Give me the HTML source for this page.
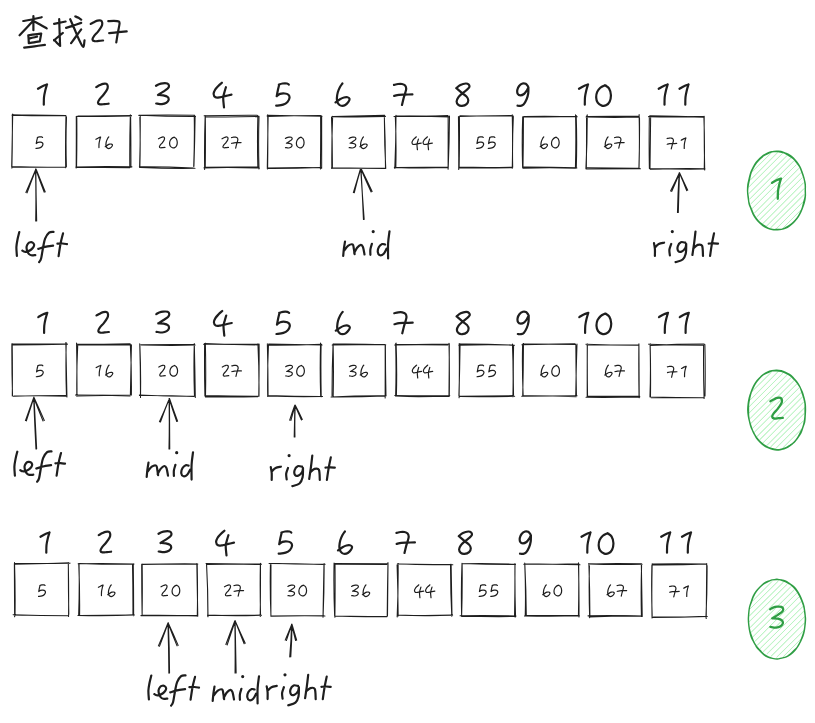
<!DOCTYPE html><html><head><meta charset="utf-8"><style>html,body{margin:0;padding:0;background:#fff;}svg{display:block}</style></head><body>
<svg width="815" height="723" viewBox="0 0 815 723">
<rect width="815" height="723" fill="#ffffff"/>
<g fill="none" stroke="#b2f2bb" stroke-width="1" stroke-linecap="round" opacity="0.72">
<path d="M752.68 171.49L771.73 152.46M752.38 171.36L771.42 152.69M750.45 180.13L778.23 152.15M749.96 180.14L777.74 152.06M748.87 186.79L782.41 153.38M749.16 186.92L782.7 153.34M748.92 193.26L786.56 155.86M749.44 193.28L787.08 155.71M749.71 198.94L790.26 158.19M750.06 198.86L790.61 158.2M750.98 203.63L793.48 161.11M751.18 203.74L793.68 161.4M752.25 208.37L795.88 165.15M752.48 208.53L796.1 164.86M754.48 213.14L798.45 168.61M754.97 212.47L798.94 168.43M757.41 216.59L800.97 172.72M756.92 216.59L800.49 173.26M759.37 219.91L801.75 178.12M760 219.85L802.38 177.62M762.76 223.35L803.11 182.95M763.26 223.46L803.61 182.87M766.78 226L804.14 188.65M766.51 226.03L803.87 188.61M771.19 227.49L804.34 194.93M770.28 228L803.43 194.7M775.87 229.28L803.09 201.75M775.79 229.14L803.01 201.99M782.66 228.35L800.78 210.29M782.52 228.63L800.63 210.16M752.14 391.66L771.18 372.6M751.86 391.27L770.89 372.53M749.85 400.21L777.67 371.78M750.42 399.84L778.25 371.8M749.19 406.5L782.81 373.34M749 407.11L782.62 373.24M749.22 412.71L786.96 375.26M749.06 413.21L786.8 374.87M750.07 418.46L790.73 377.58M750.33 418.33L790.99 377.89M751.31 423.31L793.93 380.75M750.83 423.2L793.45 381.12M752.66 428.21L796.42 384.02M752.91 427.97L796.66 384.33M754.63 431.96L798.73 388.06M754.56 432.01L798.66 388.38M756.99 436.09L800.68 392.8M757.48 436.47L801.17 392.76M759.6 439.44L802.1 396.75M760.15 439.75L802.65 397M763.07 442.79L803.53 402.35M762.9 442.94L803.37 402.08M766.95 444.96L804.41 407.45M767.24 445.4L804.7 407.92M770.65 446.79L803.88 413.65M770.8 447L804.03 413.83M775.79 448.08L803.06 421.07M775.94 448.5L803.2 421.02M783.22 447.5L801.32 429.55M783.19 447.58L801.29 429.2M752.74 600.85L771.81 581.75M752.74 600.89L771.81 581.55M750.37 608.61L778.21 581.26M750.16 608.79L778.01 581.17M749.79 615.88L783.42 582.39M749.14 615.77L782.76 582.58M748.99 621.75L786.72 584.41M749.4 621.67L787.14 584.39M750.05 627.57L790.7 586.79M750.2 627.56L790.85 586.77M750.98 632.28L793.59 590.24M751.42 632.22L794.02 590.22M752.74 636.81L796.46 593.44M752.74 637.13L796.46 593.46M754.72 641.41L798.78 596.99M755.01 641.43L799.06 596.96M757.29 644.85L800.92 601.51M757.74 645.23L801.38 601.73M760.41 648.33L802.84 606.6M760.38 648.32L802.81 606.47M763.25 651.4L803.62 611.65M763.42 651.88L803.79 610.99M767.32 653.84L804.66 616.64M766.92 653.8L804.26 616.92M771.07 655.95L804.14 623.2M771.28 656.42L804.36 623.13M776.91 657.19L803.96 630.43M776.91 656.88L803.96 630.29M783.21 656.75L800.95 638.94M783.69 656.23L801.44 638.69"/>
</g>
<g fill="none" stroke="#1e1e1e" stroke-width="1.05" stroke-linecap="round" stroke-linejoin="round">
<path d="M12.69 115.12Q39.28 114.55 65.86 115.59M11.98 115.11Q38.44 115.98 64.92 115.68M66.5 117.07Q65.61 141.87 66.42 166.68M65.96 115.94Q65.26 141.87 65.69 167.81M66.08 167Q39.04 167.54 12.01 166.5M65.8 166.9Q38.84 167.37 11.88 167.13M11.89 168.11Q12.53 141.96 12.34 115.8M11.69 166.84Q12.18 140.46 12.71 114.08M77.84 116.02Q104.69 116.16 131.54 115.6M76.24 116.44Q103.86 116.45 131.47 115.86M130.64 117.37Q130.98 142.41 130.92 167.46M130.34 114.83Q129.58 140.28 129.79 165.74M129.68 167.79Q103.01 167.37 76.33 167.12M131.95 166.85Q103.84 166.22 75.73 166.97M76.18 167.89Q76.39 142.13 76.27 116.37M76.57 166.72Q77.03 142.07 76.81 117.42M139.85 115.29Q167.7 116.54 195.57 116.45M138.84 115.37Q166.77 114.55 194.7 115.3M194.24 115.67Q194.69 141.07 193.7 166.47M195.1 116.26Q194.79 141.31 193.94 166.35M194.99 168.29Q167.63 168.63 140.3 167.47M193.53 168.03Q166.47 166.57 139.37 166.74M139.87 167Q140.51 142.14 139.84 117.27M139.59 167.56Q140.41 141.95 140.24 116.33M205.44 116.78Q231.98 117.21 258.51 116.49M204.15 115.77Q230.67 115.11 257.2 115.24M259.03 116.2Q258.2 142.58 259 168.97M257.86 115.59Q257.12 141.51 257.83 167.44M259.43 168.08Q231.7 167.23 203.98 167.86M259.03 167.09Q231.79 166.67 204.56 167.33M204.64 169.46Q204.23 142.46 205.16 115.48M205.29 166.54Q205.59 141.15 205.32 115.76M267.21 115.22Q294.63 115.78 322.05 116.24M267.23 116.52Q293.91 115.69 320.61 115.6M320.61 116.19Q320.78 142.61 320.41 169.03M321.65 115.76Q321.6 142.06 321.67 168.37M321.15 167.49Q294.42 168.58 267.67 168.48M321.24 167.72Q294.15 167.39 267.08 168.09M267.3 167.06Q267.83 141.38 268.14 115.69M267.61 168.9Q268.01 141.95 267.71 114.99M332.06 116.71Q358.82 117.45 385.59 116.6M333.19 116.54Q358.96 115.87 384.74 115.39M384.32 116.93Q385.51 142.61 385.45 168.32M384.43 115.98Q384.27 142.05 385.75 168.07M385.78 168.53Q358.63 168.18 331.48 167.89M384.59 168.36Q358.21 168.33 331.84 168.09M332.4 167.26Q332.47 142.08 331.5 116.91M331.82 168.41Q331.57 142.3 332.65 116.22M395.77 115.81Q422.51 116.47 449.26 116.87M393.99 116.5Q421.04 116.8 448.06 115.52M448.13 116.3Q448.2 142.74 448.11 169.18M449.48 115.95Q449.32 142.06 448.21 168.15M447.5 167.32Q421.49 166.94 395.48 167.49M448.06 167.56Q421.19 168.35 394.33 167.4M394.8 168.43Q395.97 141.86 396 115.27M395.84 167.69Q396.44 141.99 395.31 116.31M459.45 116.42Q486.37 115.38 513.31 115.96M459.93 115.81Q485.67 116.29 511.4 115.54M512.25 114.85Q512.88 141.56 512.27 168.28M513.34 116.86Q512.17 141.98 512.68 167.12M511.62 167.61Q485.34 168.25 459.05 167.8M512.43 167.14Q486.03 167.96 459.63 167.07M459.14 167.66Q459.66 142.22 459.4 116.79M458.72 169.53Q458.84 143.06 458.44 116.58M524.34 116.4Q550.8 115.9 577.24 116.7M523.29 116.69Q550.01 117.22 576.73 116.33M575.57 114.88Q576.2 141.53 575.41 168.16M576.2 115.53Q577.14 141.81 576.29 168.1M576.8 167.86Q549.69 167.05 522.56 167.11M575.33 168.17Q549.25 167.32 523.18 168.18M522.97 168.28Q523.45 142.35 523.43 116.42M522.61 167.54Q521.77 142.18 522.69 116.81M587.65 116.61Q613.34 116.32 639.02 115.97M585.96 116.93Q612.3 117.78 638.65 117.07M639.51 117.81Q639.74 142.99 638.92 168.15M639.13 114.64Q639.75 141.69 639.04 168.75M640.46 168.73Q613.26 168.91 586.05 169.04M638.24 168.32Q612.7 168.35 587.18 167.83M585.9 168.63Q587.34 141.74 587.24 114.81M586.36 168.82Q586.61 142.46 586.53 116.09M649.72 115.88Q676.58 116.12 703.42 117.14M648.55 116.62Q675.88 117.33 703.2 116.4M704.21 116.29Q704.06 143.1 704.71 169.9M703.92 117.71Q704.89 143.51 704.23 169.32M705.01 168.75Q677.61 168.21 650.22 169.38M703.4 169.09Q676.35 169.39 649.32 168.47M650 168.17Q650.23 142.27 650.65 116.38M649.35 168.23Q648.91 142.41 649.35 116.6M12.66 343.96Q40.05 343.83 67.44 344.14M12.37 344.85Q38.85 344.71 65.33 344.11M66.23 342.77Q65.52 368.91 66.44 395.05M65.83 342.45Q66.43 369.77 66.94 397.08M66.8 396.18Q40.36 395.28 13.92 396.07M65.74 395.54Q39.6 395.47 13.47 396.21M12.53 396.08Q11.72 369.96 11.86 343.82M12.29 395.94Q12.6 369.89 12.2 343.83M77.61 344.33Q103.74 344.23 129.86 343.76M77.72 344.93Q104.23 344.83 130.73 344.81M131.44 344.86Q130.92 369.64 130.39 394.43M130.31 343.92Q131.68 369.49 131.38 395.1M130.87 395.02Q104.15 395.44 77.43 395.88M130.01 396.01Q102.73 395.06 75.43 395.05M76.99 394.79Q77.07 368.87 76.56 342.96M76.83 396.14Q76.49 370.12 77.76 344.13M141.42 344.91Q168.29 345.78 195.16 345.1M140.94 344.69Q167.28 344.41 193.62 344.56M194.27 343.56Q193.54 369.49 194.45 395.43M194.33 344.62Q194.94 371.03 195.31 397.44M193.89 396.47Q166.69 395.31 139.46 395.58M194.56 396.23Q166.93 396.43 139.34 395.06M140.5 397.48Q140.99 370.84 139.84 344.22M140.45 395.94Q140.55 369.85 139.74 343.78M204.78 343.54Q231.7 344.72 258.64 344.26M203.59 344.19Q231.09 344.02 258.56 344.98M259.12 343.93Q259.27 370.12 258.77 396.3M257.93 343.89Q259.25 370.06 259 396.26M257.59 396.67Q231.5 397.1 205.41 396.68M257.97 396.24Q231.79 396 205.62 395.47M205.5 396.9Q206.04 370.02 205.36 343.15M204.9 396.07Q204.3 369.82 204.62 343.56M268.62 344.02Q295.36 344.57 322.1 345.09M268.58 345.09Q295.04 345.25 321.48 344.26M320.56 343.09Q319.78 369.96 320.69 396.83M321.1 344.52Q320.66 370.75 321.22 396.98M322.55 396.49Q295.34 396.94 268.14 396.09M321.07 396.54Q294.44 396.34 267.82 395.52M267.7 396.38Q267.3 370.58 268.47 344.81M268.08 395.93Q268.06 369.84 267.35 343.77M332.17 345.03Q358.47 344.46 384.77 344.41M333.26 344.08Q359.51 343.84 385.74 344.66M385.18 345.6Q385.23 371.76 385.15 397.92M385.38 345Q385.45 369.94 385.96 394.87M384.68 395.95Q358.51 397.17 332.32 396.98M386.23 395.82Q358.64 395.56 331.09 397.01M333.18 396.29Q333.75 370.74 333.15 345.19M332.06 395.67Q331.98 369.85 333.05 344.06M395.99 344.31Q422.25 344.61 448.5 344.1M394.71 344.91Q421.18 344.29 447.64 345.04M449.3 343.79Q449.27 370.16 448.97 396.53M449 343.22Q449.62 369.7 449.29 396.18M449.76 395.59Q422.28 396.2 394.8 395.47M449.07 396.12Q422.28 396.97 395.48 396.32M395.62 396.05Q396.42 369.8 395.61 343.55M396.39 395.94Q397.12 369.51 396.1 343.1M459.78 343.96Q487.15 343.79 514.47 345.19M458.85 345.13Q486.05 344.43 513.25 345.01M512.43 343.92Q513.51 370.38 512.91 396.85M513.6 345.22Q513.05 370.16 513.53 395.09M512.55 395.88Q486.09 395.89 459.64 396.19M514.65 396.31Q487.19 396.87 459.72 396.58M459.08 397.7Q459.58 370.67 459.21 343.63M458.91 395.62Q459.78 369.72 460.07 343.8M522.73 343.94Q549.21 344.19 575.69 344.39M521.87 344.74Q548.43 343.96 575 343.7M575.86 345.22Q575.93 370.38 576.44 395.54M577 343.94Q576.12 369.43 575.74 394.92M577.09 395.72Q549.42 395.92 521.75 396.33M576.11 396.8Q549.66 395.52 523.18 395.7M523.15 394.97Q521.99 369.84 522.59 344.68M522.73 395.92Q523.36 369.68 523.47 343.43M585.87 344.28Q611.99 345.26 638.13 345.22M586.92 344.99Q612.69 344.9 638.46 344.99M638.87 344.21Q638.6 370.36 639.04 396.51M638.93 343.8Q639.02 370.79 639.2 397.78M639.77 396.25Q613.45 396.52 587.12 395.92M639.68 397.09Q612.86 397.51 586.04 397.31M587.21 396.69Q587.18 370.52 587.26 344.35M587.57 397.48Q587.12 370.8 587.36 344.12M650 345.56Q677.07 344.14 704.18 344.14M648.67 344.15Q676.06 344.92 703.46 345.21M703.61 344.45Q703.27 371.47 704.08 398.48M704.89 344.58Q705.48 370.29 705.01 396M704.28 397.8Q677.76 397.57 651.25 397.82M703.43 397.71Q676.93 397.5 650.43 397.01M649.95 396.89Q650.86 370.9 650.09 344.9M650.49 396.76Q650.82 370.32 650.16 343.9M14.97 563.35Q42.48 563.82 69.99 563.15M14.78 564.22Q41.77 563.6 68.77 563.01M68.3 563.61Q68.86 590.06 68.56 616.52M68.34 563.03Q68.32 588.69 68.8 614.34M68.48 615.66Q41.35 615.49 14.23 614.97M68.13 615.82Q40.58 615.7 13.06 614.73M14.61 616.82Q14.55 590.18 14.37 563.54M15.03 615.67Q15.4 589.1 14.52 562.54M78.15 563.8Q106.09 563.24 134.02 564.03M78.66 563.41Q106.1 564.43 133.55 564.23M132.5 564.11Q133.03 589.14 132.94 614.17M133.27 563.68Q133.66 589.7 133.64 615.71M134.44 615.1Q106.19 615.97 77.92 615.42M131.77 615.04Q105.73 615.27 79.69 615.51M78.63 615.83Q79.57 590 79.05 564.16M79.6 615.13Q79.87 589.51 78.77 563.91M142.12 564.29Q169.97 563.77 197.83 563.93M141.71 564.45Q169.22 563.88 196.74 564.21M197.19 563.81Q197.81 590.05 197.28 616.3M196.82 563.47Q197.21 589.5 197.76 615.52M197.23 615.53Q169.06 615.5 140.9 615.62M197.86 616.03Q169.99 614.89 142.11 615.36M142.13 615.54Q141.65 589.88 141.7 564.21M142.14 614.03Q142.51 589.08 142.17 564.12M206.95 564.39Q234.09 563.71 261.23 564.04M206.04 563.41Q233.63 564.19 261.23 564.5M260.36 564.6Q259.89 590.38 260.57 616.15M260.47 563.24Q260.6 589.76 260.2 616.27M261.5 615.21Q234.47 616.05 207.45 615.1M261.04 615.28Q234.27 615.14 207.5 615.49M207.99 616.69Q208.02 590.62 206.59 564.6M207.83 616.58Q207.99 590.14 206.52 563.74M269.05 563.43Q295.92 563.66 322.77 564.44M271.16 563.47Q298.14 564.33 325.13 564.17M323.96 564.01Q323.43 590.65 323.02 617.3M324.11 563.4Q324.27 589.54 323.12 615.65M323.63 615.43Q297.25 615.64 270.87 616M324.97 615.95Q298.03 615.49 271.09 616.26M270.94 615.27Q269.83 589.73 270.42 564.18M270.89 616.15Q270.9 589.8 270.97 563.45M334.05 564.2Q360.28 564.15 386.51 564.58M334.98 563.54Q361.31 563.8 387.65 563.88M388.02 562.99Q387.75 589.21 387.51 615.42M387.97 562.58Q387.43 589.38 387.21 616.19M387.23 616.36Q360.89 617.02 334.55 616.07M386.8 616.67Q361.24 615.94 335.66 616.25M334.89 617.22Q335.28 590.48 335.01 563.73M334.63 616.05Q333.51 589.51 334.06 562.96M397.3 563.99Q425.07 564.44 452.84 564.66M397.96 563.91Q424.47 564.95 450.99 564.43M450.56 564.28Q450.43 590.29 451.8 616.26M451.12 564.25Q451.6 590.03 452 615.8M451.56 615.34Q424.69 616.07 397.84 615.02M452.61 615.14Q425.78 616.04 398.95 615.21M398.17 615.94Q398.01 590.44 397.08 564.95M397.13 616.92Q398.41 590.21 398.13 563.48M462.14 563.42Q488.78 564.5 515.45 564.44M462.51 563.67Q489.01 563.13 515.5 564.18M515 564.55Q515.01 590.59 514.53 616.63M514.97 563.53Q514.75 590.25 515.56 616.97M514.73 616.56Q488.38 616.74 462.04 616.32M516.04 615.96Q488.04 615.13 460.04 615.69M461.66 616.39Q460.93 589.83 461.99 563.28M461.64 616.03Q462.48 589.73 462.12 563.42M524.79 563.84Q552.39 564.6 580 564.69M523.81 564.29Q551.34 564.45 578.87 563.72M578.67 563.42Q579 589.21 578.44 615M578.44 562.84Q579.19 589.92 578.99 617.02M579.48 615.83Q551.97 616.45 524.47 615.94M578.41 615.58Q552.22 615.58 526.04 615.64M526.3 615.1Q526.1 590.1 524.87 565.12M525.25 615.34Q525.88 589.19 524.73 563.06M588.38 563.92Q615.24 564.85 642.12 564.18M589.21 563.91Q615.4 563.29 641.6 563.82M641.59 565.53Q640.77 590.97 641.43 616.42M641.34 564.36Q641.67 590.39 642.23 616.41M642.25 616.23Q615.13 615.2 588 615.86M641.95 616.01Q615.62 615.8 589.32 617.04M589.66 617.61Q588.75 591.7 589.43 565.78M589.9 616.17Q589.85 589.95 588.88 563.74M652.7 564Q679.51 563.56 706.32 564.07M652.23 564.95Q679.42 565.17 706.57 563.86M707.09 565.58Q707.23 591.8 705.92 617.98M706.71 563.47Q706.51 590.93 706.24 618.4M706.51 616.29Q679.94 617.33 653.36 617.09M707.3 616.45Q679.86 617.29 652.4 617.54M652.21 617.18Q651.25 591.19 651.88 565.18M652.04 617.95Q651.56 590.81 652.16 563.68M35.69 220.9Q36.19 195 35.5 169.1M36.68 220.9Q36 195 35.83 169.1M25.89 192.42Q30.97 180.81 35.78 169.09M27.08 192.89Q31.31 180.94 36.07 169.21M44.23 192.27Q39.77 180.78 35.7 169.14M45.27 191.85Q40.67 180.42 36.03 169.01M363.44 219.42Q362.55 193.89 360.67 168.41M364.16 219.38Q362.13 193.91 360.97 168.39M353.35 192.57Q357.08 180.49 360.58 168.34M354.26 192.83Q357.3 180.55 360.82 168.41M371.12 191.97Q365.77 180.28 360.67 168.46M372.14 191.5Q366.66 179.86 360.97 168.32M677.46 212.48Q677.93 192.68 679.13 172.89M678.32 212.51Q678.81 192.71 679.52 172.91M670.57 190.92Q675.1 181.98 679.28 172.89M671.69 191.42Q675.81 182.3 679.53 173M686.66 190.65Q683.2 181.67 679.3 172.9M687.74 190.16Q683.51 181.53 679.54 172.79M35.94 448.92Q34.64 423.17 33.65 397.41M36.65 448.88Q35.44 423.13 34.01 397.39M25.42 420.57Q29.56 408.95 33.75 397.35M26.37 420.9Q30.28 409.2 33.93 397.41M43.03 420.98Q38.25 409.28 33.66 397.5M44.33 420.43Q39.31 408.84 34.01 397.36M168.98 448.9Q169.55 423.75 169.04 398.6M169.75 448.9Q169.64 423.75 169.45 398.6M159.43 421.67Q164.62 410.24 169.29 398.6M160.45 422.08Q164.68 410.26 169.35 398.62M176.73 421.56Q172.63 410.21 169.07 398.68M177.61 421.26Q173.38 409.95 169.5 398.53M294.19 437Q294.6 421.1 294.82 405.2M294.96 437.01Q294.61 421.1 295.21 405.2M289.68 420.18Q291.98 412.58 294.79 405.14M290.83 420.53Q292.99 412.89 295.14 405.24M301.44 419.92Q298.15 412.59 294.97 405.22M302.31 419.5Q298.93 412.22 295.16 405.12M168.86 673.11Q168.69 648 167.93 622.9M169.55 673.09Q169.47 647.98 168.35 622.89M158.38 645.9Q163.37 634.45 167.98 622.85M159.47 646.32Q164.08 634.73 168.21 622.94M177.05 645.88Q172.38 634.47 168.01 622.94M178.19 645.39Q173.47 634.01 168.22 622.85M235.06 673.11Q235.32 646.95 234.83 620.8M236.15 673.09Q235.66 646.95 235.12 620.8M225.86 644.54Q230.21 632.57 234.84 620.71M227.14 644.99Q231.13 632.9 235.28 620.86M244.14 643.74Q239.57 632.29 235.08 620.81M245.25 643.27Q239.98 632.12 235.11 620.8M289.71 656.87Q291.16 640.56 291.57 624.19M290.79 656.92Q291.88 640.59 292.04 624.21M285.19 640.14Q288.57 632.2 291.79 624.2M286.38 640.57Q289.06 632.37 291.99 624.27M295.6 640.56Q293.64 632.4 291.53 624.27M296.68 640.27Q294.28 632.22 291.95 624.16"/>
</g>
<g fill="none" stroke="#1e1e1e" stroke-width="2.2" stroke-linecap="round" stroke-linejoin="round">
<path d="M23.3 21C24.75 20.75 28.93 20.13 32 19.5C35.07 18.87 40.08 17.58 41.7 17.2M33.4 16C33.4 17.17 33.4 20.63 33.4 23C33.4 25.37 33.4 29 33.4 30.2M33 21C31.83 22.25 28.23 26.12 26 28.5C23.77 30.88 20.67 34.17 19.6 35.3M34.3 21.5C35.25 22 37.93 23.35 40 24.5C42.07 25.65 45.58 27.75 46.7 28.4M28.3 35.3C28.35 35.92 28.52 37.7 28.6 39C28.68 40.3 28.77 42.42 28.8 43.1M28.3 35.3C29.42 35.13 32.85 34.6 35 34.3C37.15 34 40.17 33.63 41.2 33.5M41.2 33.5C41.08 34.17 40.73 36.2 40.5 37.5C40.27 38.8 39.92 40.67 39.8 41.3M29.7 38.5C30.33 38.33 32.27 37.8 33.5 37.5C34.73 37.2 36.5 36.83 37.1 36.7M28.8 43.1C29.67 42.97 32.17 42.6 34 42.3C35.83 42 38.83 41.47 39.8 41.3M24.2 47.7C25.92 47.47 31.05 46.78 34.5 46.3C37.95 45.82 43.17 45.05 44.9 44.8M54.1 23.8C55.08 23.6 58.08 22.98 60 22.6C61.92 22.22 64.67 21.68 65.6 21.5M59.2 19.2C59.27 21.33 59.45 27.55 59.6 32C59.75 36.45 60.02 43.58 60.1 45.9M54.1 40.4C54.83 39.75 57.05 37.73 58.5 36.5C59.95 35.27 62.08 33.58 62.8 33M54.1 39.9C54.58 40.42 56 42 57 43C58 44 59.58 45.42 60.1 45.9M66.1 27.9C67.33 27.5 70.98 26.33 73.5 25.5C76.02 24.67 79.92 23.33 81.2 22.9M70.2 19.2C70.92 20.83 73.12 25.78 74.5 29C75.88 32.22 77.07 35.53 78.5 38.5C79.93 41.47 82.1 46.48 83.1 46.8C84.1 47.12 84.27 41.47 84.5 40.4M81.2 29.3C80.33 30.5 77.68 34.2 76 36.5C74.32 38.8 71.92 42 71.1 43.1M75.3 16.4C75.83 16.63 77.52 17.25 78.5 17.8C79.48 18.35 80.75 19.38 81.2 19.7M90.7 23.9C91.33 23.57 93.35 22.45 94.5 21.9C95.65 21.35 96.57 20.82 97.6 20.6C98.63 20.38 99.93 20.27 100.7 20.6C101.47 20.93 102.05 21.65 102.2 22.6C102.35 23.55 102.3 24.8 101.6 26.3C100.9 27.8 99.27 29.97 98 31.6C96.73 33.23 94.92 34.77 94 36.1C93.08 37.43 92.42 38.75 92.5 39.6C92.58 40.45 93.43 40.98 94.5 41.2C95.57 41.42 97.47 41.02 98.9 40.9C100.33 40.78 102.4 40.57 103.1 40.5M108.3 21.2C109.25 21.13 112.25 20.75 114 20.8C115.75 20.85 117.88 20.97 118.8 21.5C119.72 22.03 119.67 22.08 119.5 24C119.33 25.92 118.33 29.93 117.8 33C117.27 36.07 116.55 40.83 116.3 42.4M109.2 33.2C110.67 33.03 115.08 32.52 118 32.2C120.92 31.88 125.25 31.45 126.7 31.3M38 88.8C38.75 88.37 41 86.92 42.5 86.2C44 85.48 46.25 84.78 47 84.5M47 84.5C46.7 85.53 45.7 88.58 45.2 90.7C44.7 92.82 44.23 94.87 44 97.2C43.77 99.53 43.83 103.45 43.8 104.7M96.2 87.1C96.83 86.77 98.85 85.65 100 85.1C101.15 84.55 102.07 84.02 103.1 83.8C104.13 83.58 105.43 83.47 106.2 83.8C106.97 84.13 107.55 84.85 107.7 85.8C107.85 86.75 107.8 88 107.1 89.5C106.4 91 104.77 93.17 103.5 94.8C102.23 96.43 100.42 97.97 99.5 99.3C98.58 100.63 97.92 101.95 98 102.8C98.08 103.65 98.93 104.18 100 104.4C101.07 104.62 102.97 104.22 104.4 104.1C105.83 103.98 107.9 103.77 108.6 103.7M156 85.8C156.48 85.53 157.77 84.62 158.9 84.2C160.03 83.78 161.4 83.42 162.8 83.3C164.2 83.18 166.27 83.08 167.3 83.5C168.33 83.92 168.93 84.95 169 85.8C169.07 86.65 168.65 87.62 167.7 88.6C166.75 89.58 164.92 90.63 163.3 91.7C161.68 92.77 158.88 94.45 158 95M158 95C158.88 95.05 161.68 94.97 163.3 95.3C164.92 95.63 166.82 96.2 167.7 97C168.58 97.8 168.82 99.13 168.6 100.1C168.38 101.07 167.5 102.12 166.4 102.8C165.3 103.48 163.7 104.08 162 104.2C160.3 104.32 157.17 103.62 156.2 103.5M221.9 82.7C221.3 83.25 219.43 84.82 218.3 86C217.17 87.18 215.88 88.47 215.1 89.8C214.32 91.13 213.53 92.75 213.6 94C213.67 95.25 214.47 96.75 215.5 97.3C216.53 97.85 218.07 97.53 219.8 97.3C221.53 97.07 223.95 96.33 225.9 95.9C227.85 95.47 230.57 94.9 231.5 94.7M225.9 87.2C225.67 88.02 224.95 90.35 224.5 92.1C224.05 93.85 223.28 95.15 223.2 97.7C223.12 100.25 223.87 105.78 224 107.4M288.8 84.6C288.52 84.42 288.13 83.68 287.1 83.5C286.07 83.32 283.93 83.32 282.6 83.5C281.27 83.68 279.68 84.33 279.1 84.6C278.52 84.87 279.32 84.13 279.1 85.1C278.88 86.07 278.2 88.55 277.8 90.4C277.4 92.25 276.88 95.23 276.7 96.2M276.7 96.2C277.25 95.82 278.65 94.35 280 93.9C281.35 93.45 283.4 93.35 284.8 93.5C286.2 93.65 287.62 94.07 288.4 94.8C289.18 95.53 289.65 96.72 289.5 97.9C289.35 99.08 288.57 100.78 287.5 101.9C286.43 103.02 284.98 103.97 283.1 104.6C281.22 105.23 277.35 105.52 276.2 105.7M342.4 83.5C342 84.07 340.77 85.45 340 86.9C339.23 88.35 338.32 90.37 337.8 92.2C337.28 94.03 336.98 96.28 336.9 97.9C336.82 99.52 336.87 100.72 337.3 101.9C337.73 103.08 338.68 104.33 339.5 105C340.32 105.67 341.23 105.9 342.2 105.9C343.17 105.9 344.27 105.67 345.3 105C346.33 104.33 347.7 102.93 348.4 101.9C349.1 100.87 349.65 99.57 349.5 98.8C349.35 98.03 348.42 97.52 347.5 97.3C346.58 97.08 345.25 97.17 344 97.5C342.75 97.83 341.42 98.48 340 99.3C338.58 100.12 336.25 101.88 335.5 102.4M394 84.9C394.67 84.75 396.67 84.15 398 84C399.33 83.85 400.82 83.75 402 84C403.18 84.25 404.4 84.73 405.1 85.5C405.8 86.27 406.17 87.42 406.2 88.6C406.23 89.78 405.72 91.05 405.3 92.6C404.88 94.15 404.25 95.83 403.7 97.9C403.15 99.97 402.28 103.82 402 105M394.2 95.9C394.98 95.72 397.08 95.02 398.9 94.8C400.72 94.58 402.85 94.67 405.1 94.6C407.35 94.53 411.18 94.43 412.4 94.4M456.3 88.1C456.98 87.58 458.82 85.77 460.4 85C461.98 84.23 464.42 83.57 465.8 83.5C467.18 83.43 468.12 84 468.7 84.6C469.28 85.2 469.65 86.2 469.3 87.1C468.95 88 467.75 88.97 466.6 90C465.45 91.03 463.78 92.07 462.4 93.3C461.02 94.53 459.27 96.02 458.3 97.4C457.33 98.78 456.6 100.35 456.6 101.6C456.6 102.85 457.4 104.18 458.3 104.9C459.2 105.62 460.62 106.03 462 105.9C463.38 105.77 465.55 105.03 466.6 104.1C467.65 103.17 468.3 101.55 468.3 100.3C468.3 99.05 467.58 97.77 466.6 96.6C465.62 95.43 464.12 94.72 462.4 93.3C460.68 91.88 457.32 88.97 456.3 88.1M527.9 86.2C527.53 85.8 526.58 84.25 525.7 83.8C524.82 83.35 523.7 83.13 522.6 83.5C521.5 83.87 519.98 84.92 519.1 86C518.22 87.08 517.52 88.67 517.3 90C517.08 91.33 517.28 93.12 517.8 94C518.32 94.88 519.37 95.3 520.4 95.3C521.43 95.3 522.97 94.75 524 94C525.03 93.25 525.87 91.92 526.6 90.8C527.33 89.68 528.1 87.88 528.4 87.3M528.4 87.3C528.37 88.33 528.5 91.5 528.2 93.5C527.9 95.5 527.38 97.45 526.6 99.3C525.82 101.15 524.53 103.5 523.5 104.6C522.47 105.7 521.4 105.72 520.4 105.9C519.4 106.08 517.98 105.73 517.5 105.7M579 88.8C579.75 88.37 582 86.92 583.5 86.2C585 85.48 587.25 84.78 588 84.5M588 84.5C587.7 85.53 586.7 88.58 586.2 90.7C585.7 92.82 585.23 94.87 585 97.2C584.77 99.53 584.83 103.45 584.8 104.7M604.9 85.2C605.58 85.72 608 86.67 609 88.3C610 89.93 610.8 92.77 610.9 95C611 97.23 610.42 99.98 609.6 101.7C608.78 103.42 607.3 104.65 606 105.3C604.7 105.95 603.18 106.03 601.8 105.6C600.42 105.17 598.63 104.03 597.7 102.7C596.77 101.37 596.28 99.4 596.2 97.6C596.12 95.8 596.52 93.53 597.2 91.9C597.88 90.27 599.18 88.83 600.3 87.8C601.42 86.77 602.95 86.08 603.9 85.7C604.85 85.32 605.65 85.53 606 85.5M658.7 88.8C659.45 88.37 661.7 86.92 663.2 86.2C664.7 85.48 666.95 84.78 667.7 84.5M667.7 84.5C667.4 85.53 666.4 88.58 665.9 90.7C665.4 92.82 664.93 94.87 664.7 97.2C664.47 99.53 664.53 103.45 664.5 104.7M679.5 88.8C680.25 88.37 682.5 86.92 684 86.2C685.5 85.48 687.75 84.78 688.5 84.5M688.5 84.5C688.2 85.53 687.2 88.58 686.7 90.7C686.2 92.82 685.73 94.87 685.5 97.2C685.27 99.53 685.33 103.45 685.3 104.7M38.3 317.1C39.05 316.67 41.3 315.22 42.8 314.5C44.3 313.78 46.55 313.08 47.3 312.8M47.3 312.8C47 313.83 46 316.88 45.5 319C45 321.12 44.53 323.17 44.3 325.5C44.07 327.83 44.13 331.75 44.1 333M96.5 315.4C97.13 315.07 99.15 313.95 100.3 313.4C101.45 312.85 102.37 312.32 103.4 312.1C104.43 311.88 105.73 311.77 106.5 312.1C107.27 312.43 107.85 313.15 108 314.1C108.15 315.05 108.1 316.3 107.4 317.8C106.7 319.3 105.07 321.47 103.8 323.1C102.53 324.73 100.72 326.27 99.8 327.6C98.88 328.93 98.22 330.25 98.3 331.1C98.38 331.95 99.23 332.48 100.3 332.7C101.37 332.92 103.27 332.52 104.7 332.4C106.13 332.28 108.2 332.07 108.9 332M156.3 314.1C156.78 313.83 158.07 312.92 159.2 312.5C160.33 312.08 161.7 311.72 163.1 311.6C164.5 311.48 166.57 311.38 167.6 311.8C168.63 312.22 169.23 313.25 169.3 314.1C169.37 314.95 168.95 315.92 168 316.9C167.05 317.88 165.22 318.93 163.6 320C161.98 321.07 159.18 322.75 158.3 323.3M158.3 323.3C159.18 323.35 161.98 323.27 163.6 323.6C165.22 323.93 167.12 324.5 168 325.3C168.88 326.1 169.12 327.43 168.9 328.4C168.68 329.37 167.8 330.42 166.7 331.1C165.6 331.78 164 332.38 162.3 332.5C160.6 332.62 157.47 331.92 156.5 331.8M222.2 311C221.6 311.55 219.73 313.12 218.6 314.3C217.47 315.48 216.18 316.77 215.4 318.1C214.62 319.43 213.83 321.05 213.9 322.3C213.97 323.55 214.77 325.05 215.8 325.6C216.83 326.15 218.37 325.83 220.1 325.6C221.83 325.37 224.25 324.63 226.2 324.2C228.15 323.77 230.87 323.2 231.8 323M226.2 315.5C225.97 316.32 225.25 318.65 224.8 320.4C224.35 322.15 223.58 323.45 223.5 326C223.42 328.55 224.17 334.08 224.3 335.7M289.1 312.9C288.82 312.72 288.43 311.98 287.4 311.8C286.37 311.62 284.23 311.62 282.9 311.8C281.57 311.98 279.98 312.63 279.4 312.9C278.82 313.17 279.62 312.43 279.4 313.4C279.18 314.37 278.5 316.85 278.1 318.7C277.7 320.55 277.18 323.53 277 324.5M277 324.5C277.55 324.12 278.95 322.65 280.3 322.2C281.65 321.75 283.7 321.65 285.1 321.8C286.5 321.95 287.92 322.37 288.7 323.1C289.48 323.83 289.95 325.02 289.8 326.2C289.65 327.38 288.87 329.08 287.8 330.2C286.73 331.32 285.28 332.27 283.4 332.9C281.52 333.53 277.65 333.82 276.5 334M342.7 311.8C342.3 312.37 341.07 313.75 340.3 315.2C339.53 316.65 338.62 318.67 338.1 320.5C337.58 322.33 337.28 324.58 337.2 326.2C337.12 327.82 337.17 329.02 337.6 330.2C338.03 331.38 338.98 332.63 339.8 333.3C340.62 333.97 341.53 334.2 342.5 334.2C343.47 334.2 344.57 333.97 345.6 333.3C346.63 332.63 348 331.23 348.7 330.2C349.4 329.17 349.95 327.87 349.8 327.1C349.65 326.33 348.72 325.82 347.8 325.6C346.88 325.38 345.55 325.47 344.3 325.8C343.05 326.13 341.72 326.78 340.3 327.6C338.88 328.42 336.55 330.18 335.8 330.7M394.3 313.2C394.97 313.05 396.97 312.45 398.3 312.3C399.63 312.15 401.12 312.05 402.3 312.3C403.48 312.55 404.7 313.03 405.4 313.8C406.1 314.57 406.47 315.72 406.5 316.9C406.53 318.08 406.02 319.35 405.6 320.9C405.18 322.45 404.55 324.13 404 326.2C403.45 328.27 402.58 332.12 402.3 333.3M394.5 324.2C395.28 324.02 397.38 323.32 399.2 323.1C401.02 322.88 403.15 322.97 405.4 322.9C407.65 322.83 411.48 322.73 412.7 322.7M456.6 316.4C457.28 315.88 459.12 314.07 460.7 313.3C462.28 312.53 464.72 311.87 466.1 311.8C467.48 311.73 468.42 312.3 469 312.9C469.58 313.5 469.95 314.5 469.6 315.4C469.25 316.3 468.05 317.27 466.9 318.3C465.75 319.33 464.08 320.37 462.7 321.6C461.32 322.83 459.57 324.32 458.6 325.7C457.63 327.08 456.9 328.65 456.9 329.9C456.9 331.15 457.7 332.48 458.6 333.2C459.5 333.92 460.92 334.33 462.3 334.2C463.68 334.07 465.85 333.33 466.9 332.4C467.95 331.47 468.6 329.85 468.6 328.6C468.6 327.35 467.88 326.07 466.9 324.9C465.92 323.73 464.42 323.02 462.7 321.6C460.98 320.18 457.62 317.27 456.6 316.4M528.2 314.5C527.83 314.1 526.88 312.55 526 312.1C525.12 311.65 524 311.43 522.9 311.8C521.8 312.17 520.28 313.22 519.4 314.3C518.52 315.38 517.82 316.97 517.6 318.3C517.38 319.63 517.58 321.42 518.1 322.3C518.62 323.18 519.67 323.6 520.7 323.6C521.73 323.6 523.27 323.05 524.3 322.3C525.33 321.55 526.17 320.22 526.9 319.1C527.63 317.98 528.4 316.18 528.7 315.6M528.7 315.6C528.67 316.63 528.8 319.8 528.5 321.8C528.2 323.8 527.68 325.75 526.9 327.6C526.12 329.45 524.83 331.8 523.8 332.9C522.77 334 521.7 334.02 520.7 334.2C519.7 334.38 518.28 334.03 517.8 334M579.3 317.1C580.05 316.67 582.3 315.22 583.8 314.5C585.3 313.78 587.55 313.08 588.3 312.8M588.3 312.8C588 313.83 587 316.88 586.5 319C586 321.12 585.53 323.17 585.3 325.5C585.07 327.83 585.13 331.75 585.1 333M605.2 313.5C605.88 314.02 608.3 314.97 609.3 316.6C610.3 318.23 611.1 321.07 611.2 323.3C611.3 325.53 610.72 328.28 609.9 330C609.08 331.72 607.6 332.95 606.3 333.6C605 334.25 603.48 334.33 602.1 333.9C600.72 333.47 598.93 332.33 598 331C597.07 329.67 596.58 327.7 596.5 325.9C596.42 324.1 596.82 321.83 597.5 320.2C598.18 318.57 599.48 317.13 600.6 316.1C601.72 315.07 603.25 314.38 604.2 314C605.15 313.62 605.95 313.83 606.3 313.8M659 317.1C659.75 316.67 662 315.22 663.5 314.5C665 313.78 667.25 313.08 668 312.8M668 312.8C667.7 313.83 666.7 316.88 666.2 319C665.7 321.12 665.23 323.17 665 325.5C664.77 327.83 664.83 331.75 664.8 333M679.8 317.1C680.55 316.67 682.8 315.22 684.3 314.5C685.8 313.78 688.05 313.08 688.8 312.8M688.8 312.8C688.5 313.83 687.5 316.88 687 319C686.5 321.12 686.03 323.17 685.8 325.5C685.57 327.83 685.63 331.75 685.6 333M40.5 536.8C41.25 536.37 43.5 534.92 45 534.2C46.5 533.48 48.75 532.78 49.5 532.5M49.5 532.5C49.2 533.53 48.2 536.58 47.7 538.7C47.2 540.82 46.73 542.87 46.5 545.2C46.27 547.53 46.33 551.45 46.3 552.7M98.7 535.1C99.33 534.77 101.35 533.65 102.5 533.1C103.65 532.55 104.57 532.02 105.6 531.8C106.63 531.58 107.93 531.47 108.7 531.8C109.47 532.13 110.05 532.85 110.2 533.8C110.35 534.75 110.3 536 109.6 537.5C108.9 539 107.27 541.17 106 542.8C104.73 544.43 102.92 545.97 102 547.3C101.08 548.63 100.42 549.95 100.5 550.8C100.58 551.65 101.43 552.18 102.5 552.4C103.57 552.62 105.47 552.22 106.9 552.1C108.33 551.98 110.4 551.77 111.1 551.7M158.5 533.8C158.98 533.53 160.27 532.62 161.4 532.2C162.53 531.78 163.9 531.42 165.3 531.3C166.7 531.18 168.77 531.08 169.8 531.5C170.83 531.92 171.43 532.95 171.5 533.8C171.57 534.65 171.15 535.62 170.2 536.6C169.25 537.58 167.42 538.63 165.8 539.7C164.18 540.77 161.38 542.45 160.5 543M160.5 543C161.38 543.05 164.18 542.97 165.8 543.3C167.42 543.63 169.32 544.2 170.2 545C171.08 545.8 171.32 547.13 171.1 548.1C170.88 549.07 170 550.12 168.9 550.8C167.8 551.48 166.2 552.08 164.5 552.2C162.8 552.32 159.67 551.62 158.7 551.5M224.4 530.7C223.8 531.25 221.93 532.82 220.8 534C219.67 535.18 218.38 536.47 217.6 537.8C216.82 539.13 216.03 540.75 216.1 542C216.17 543.25 216.97 544.75 218 545.3C219.03 545.85 220.57 545.53 222.3 545.3C224.03 545.07 226.45 544.33 228.4 543.9C230.35 543.47 233.07 542.9 234 542.7M228.4 535.2C228.17 536.02 227.45 538.35 227 540.1C226.55 541.85 225.78 543.15 225.7 545.7C225.62 548.25 226.37 553.78 226.5 555.4M291.3 532.6C291.02 532.42 290.63 531.68 289.6 531.5C288.57 531.32 286.43 531.32 285.1 531.5C283.77 531.68 282.18 532.33 281.6 532.6C281.02 532.87 281.82 532.13 281.6 533.1C281.38 534.07 280.7 536.55 280.3 538.4C279.9 540.25 279.38 543.23 279.2 544.2M279.2 544.2C279.75 543.82 281.15 542.35 282.5 541.9C283.85 541.45 285.9 541.35 287.3 541.5C288.7 541.65 290.12 542.07 290.9 542.8C291.68 543.53 292.15 544.72 292 545.9C291.85 547.08 291.07 548.78 290 549.9C288.93 551.02 287.48 551.97 285.6 552.6C283.72 553.23 279.85 553.52 278.7 553.7M344.9 531.5C344.5 532.07 343.27 533.45 342.5 534.9C341.73 536.35 340.82 538.37 340.3 540.2C339.78 542.03 339.48 544.28 339.4 545.9C339.32 547.52 339.37 548.72 339.8 549.9C340.23 551.08 341.18 552.33 342 553C342.82 553.67 343.73 553.9 344.7 553.9C345.67 553.9 346.77 553.67 347.8 553C348.83 552.33 350.2 550.93 350.9 549.9C351.6 548.87 352.15 547.57 352 546.8C351.85 546.03 350.92 545.52 350 545.3C349.08 545.08 347.75 545.17 346.5 545.5C345.25 545.83 343.92 546.48 342.5 547.3C341.08 548.12 338.75 549.88 338 550.4M396.5 532.9C397.17 532.75 399.17 532.15 400.5 532C401.83 531.85 403.32 531.75 404.5 532C405.68 532.25 406.9 532.73 407.6 533.5C408.3 534.27 408.67 535.42 408.7 536.6C408.73 537.78 408.22 539.05 407.8 540.6C407.38 542.15 406.75 543.83 406.2 545.9C405.65 547.97 404.78 551.82 404.5 553M396.7 543.9C397.48 543.72 399.58 543.02 401.4 542.8C403.22 542.58 405.35 542.67 407.6 542.6C409.85 542.53 413.68 542.43 414.9 542.4M458.8 536.1C459.48 535.58 461.32 533.77 462.9 533C464.48 532.23 466.92 531.57 468.3 531.5C469.68 531.43 470.62 532 471.2 532.6C471.78 533.2 472.15 534.2 471.8 535.1C471.45 536 470.25 536.97 469.1 538C467.95 539.03 466.28 540.07 464.9 541.3C463.52 542.53 461.77 544.02 460.8 545.4C459.83 546.78 459.1 548.35 459.1 549.6C459.1 550.85 459.9 552.18 460.8 552.9C461.7 553.62 463.12 554.03 464.5 553.9C465.88 553.77 468.05 553.03 469.1 552.1C470.15 551.17 470.8 549.55 470.8 548.3C470.8 547.05 470.08 545.77 469.1 544.6C468.12 543.43 466.62 542.72 464.9 541.3C463.18 539.88 459.82 536.97 458.8 536.1M530.4 534.2C530.03 533.8 529.08 532.25 528.2 531.8C527.32 531.35 526.2 531.13 525.1 531.5C524 531.87 522.48 532.92 521.6 534C520.72 535.08 520.02 536.67 519.8 538C519.58 539.33 519.78 541.12 520.3 542C520.82 542.88 521.87 543.3 522.9 543.3C523.93 543.3 525.47 542.75 526.5 542C527.53 541.25 528.37 539.92 529.1 538.8C529.83 537.68 530.6 535.88 530.9 535.3M530.9 535.3C530.87 536.33 531 539.5 530.7 541.5C530.4 543.5 529.88 545.45 529.1 547.3C528.32 549.15 527.03 551.5 526 552.6C524.97 553.7 523.9 553.72 522.9 553.9C521.9 554.08 520.48 553.73 520 553.7M581.5 536.8C582.25 536.37 584.5 534.92 586 534.2C587.5 533.48 589.75 532.78 590.5 532.5M590.5 532.5C590.2 533.53 589.2 536.58 588.7 538.7C588.2 540.82 587.73 542.87 587.5 545.2C587.27 547.53 587.33 551.45 587.3 552.7M607.4 533.2C608.08 533.72 610.5 534.67 611.5 536.3C612.5 537.93 613.3 540.77 613.4 543C613.5 545.23 612.92 547.98 612.1 549.7C611.28 551.42 609.8 552.65 608.5 553.3C607.2 553.95 605.68 554.03 604.3 553.6C602.92 553.17 601.13 552.03 600.2 550.7C599.27 549.37 598.78 547.4 598.7 545.6C598.62 543.8 599.02 541.53 599.7 539.9C600.38 538.27 601.68 536.83 602.8 535.8C603.92 534.77 605.45 534.08 606.4 533.7C607.35 533.32 608.15 533.53 608.5 533.5M661.2 536.8C661.95 536.37 664.2 534.92 665.7 534.2C667.2 533.48 669.45 532.78 670.2 532.5M670.2 532.5C669.9 533.53 668.9 536.58 668.4 538.7C667.9 540.82 667.43 542.87 667.2 545.2C666.97 547.53 667.03 551.45 667 552.7M682 536.8C682.75 536.37 685 534.92 686.5 534.2C688 533.48 690.25 532.78 691 532.5M691 532.5C690.7 533.53 689.7 536.58 689.2 538.7C688.7 540.82 688.23 542.87 688 545.2C687.77 547.53 687.83 551.45 687.8 552.7M19.3 232.1C19.02 233.25 18.08 236.52 17.6 239C17.12 241.48 16.52 244.17 16.4 247C16.28 249.83 16.82 254.5 16.9 256M22.3 250.6C22.68 250.78 23.82 251.53 24.6 251.7C25.38 251.87 26 251.88 27 251.6C28 251.32 29.53 250.73 30.6 250C31.67 249.27 32.82 248.1 33.4 247.2C33.98 246.3 34.23 245.37 34.1 244.6C33.97 243.83 33.23 242.98 32.6 242.6C31.97 242.22 31.07 242.13 30.3 242.3C29.53 242.47 28.62 242.88 28 243.6C27.38 244.32 26.77 245.48 26.6 246.6C26.43 247.72 26.67 249.13 27 250.3C27.33 251.47 27.88 252.77 28.6 253.6C29.32 254.43 30.18 255.05 31.3 255.3C32.42 255.55 34.63 255.13 35.3 255.1M53.5 231.8C52.77 231.93 50.5 231.47 49.1 232.6C47.7 233.73 46.1 236.15 45.1 238.6C44.1 241.05 43.77 243.98 43.1 247.3C42.43 250.62 41.77 256.03 41.1 258.5C40.43 260.97 39.43 261.5 39.1 262.1M38.3 248.9C39.43 248.57 42.63 247.45 45.1 246.9C47.57 246.35 51.77 245.82 53.1 245.6M63 233.4C62.6 235.05 61.33 239.52 60.6 243.3C59.87 247.08 58.93 253.97 58.6 256.1M57.4 243.7C58.27 243.67 61 243.43 62.6 243.5C64.2 243.57 66.27 244 67 244.1M345 241.6C344.82 242.77 344.2 246.22 343.9 248.6C343.6 250.98 343.32 254.68 343.2 255.9M343.9 250.8C344.63 249.93 346.83 246.65 348.3 245.6C349.77 244.55 351.78 244 352.7 244.5C353.62 245 353.48 247 353.8 248.6C354.12 250.2 354.47 253.18 354.6 254.1M354.2 253C354.68 252.13 356 249.15 357.1 247.8C358.2 246.45 359.82 245.02 360.8 244.9C361.78 244.78 362.38 245.5 363 247.1C363.62 248.7 364.25 253.27 364.5 254.5M373.2 231.6m-0.5 0a0.5 0.5 0 1 0 1 0a0.5 0.5 0 1 0 -1 0M371.9 243.8C371.65 244.72 370.65 247.47 370.4 249.3C370.15 251.13 370.4 253.88 370.4 254.8M385.1 244.5C384.62 244.43 383.23 243.67 382.2 244.1C381.17 244.53 379.63 245.75 378.9 247.1C378.17 248.45 377.62 250.85 377.8 252.2C377.98 253.55 379.02 254.95 380 255.2C380.98 255.45 382.6 254.8 383.7 253.7C384.8 252.6 386.12 249.45 386.6 248.6M389.5 231.3C389.27 233.32 388.33 238.87 388.1 243.4C387.87 247.93 388.1 255.98 388.1 258.5M654 243.1C654.15 244.07 654.75 246.77 654.9 248.9C655.05 251.03 654.9 254.73 654.9 255.9M655.3 247.1C655.88 246.58 657.33 244.73 658.8 244C660.27 243.27 663.22 242.92 664.1 242.7M672.3 231.6m-0.5 0a0.5 0.5 0 1 0 1 0a0.5 0.5 0 1 0 -1 0M671.2 244C670.9 244.95 669.62 247.78 669.4 249.7C669.18 251.62 669.82 254.53 669.9 255.5M685.3 242.7C684.57 242.62 682.15 241.62 680.9 242.2C679.65 242.78 678.23 244.72 677.8 246.2C677.37 247.68 677.63 250.22 678.3 251.1C678.97 251.98 680.63 252.02 681.8 251.5C682.97 250.98 684.57 249.25 685.3 248C686.03 246.75 686.05 244.67 686.2 244M686.2 244C686.13 245.55 686.38 250.72 685.8 253.3C685.22 255.88 684.4 258.03 682.7 259.5C681 260.97 676.78 261.67 675.6 262.1M695.5 231.6C695.28 233.45 694.72 238.8 694.2 242.7C693.68 246.6 692.7 252.95 692.4 255M693.3 248.4C694.03 247.82 696.23 245.33 697.7 244.9C699.17 244.47 701.22 243.97 702.1 245.8C702.98 247.63 702.85 254.22 703 255.9M714 233.4C713.63 235.23 712.45 240.65 711.8 244.4C711.15 248.15 710.38 253.98 710.1 255.9M708.7 243.6C709.52 243.55 712.05 243.28 713.6 243.3C715.15 243.32 717.27 243.63 718 243.7M17.3 451.7C17.02 452.85 16.08 456.12 15.6 458.6C15.12 461.08 14.52 463.77 14.4 466.6C14.28 469.43 14.82 474.1 14.9 475.6M20.3 470.2C20.68 470.38 21.82 471.13 22.6 471.3C23.38 471.47 24 471.48 25 471.2C26 470.92 27.53 470.33 28.6 469.6C29.67 468.87 30.82 467.7 31.4 466.8C31.98 465.9 32.23 464.97 32.1 464.2C31.97 463.43 31.23 462.58 30.6 462.2C29.97 461.82 29.07 461.73 28.3 461.9C27.53 462.07 26.62 462.48 26 463.2C25.38 463.92 24.77 465.08 24.6 466.2C24.43 467.32 24.67 468.73 25 469.9C25.33 471.07 25.88 472.37 26.6 473.2C27.32 474.03 28.18 474.65 29.3 474.9C30.42 475.15 32.63 474.73 33.3 474.7M51.5 451.4C50.77 451.53 48.5 451.07 47.1 452.2C45.7 453.33 44.1 455.75 43.1 458.2C42.1 460.65 41.77 463.58 41.1 466.9C40.43 470.22 39.77 475.63 39.1 478.1C38.43 480.57 37.43 481.1 37.1 481.7M36.3 468.5C37.43 468.17 40.63 467.05 43.1 466.5C45.57 465.95 49.77 465.42 51.1 465.2M61 453C60.6 454.65 59.33 459.12 58.6 462.9C57.87 466.68 56.93 473.57 56.6 475.7M55.4 463.3C56.27 463.27 59 463.03 60.6 463.1C62.2 463.17 64.27 463.6 65 463.7M148.5 462.7C148.32 463.87 147.7 467.32 147.4 469.7C147.1 472.08 146.82 475.78 146.7 477M147.4 471.9C148.13 471.03 150.33 467.75 151.8 466.7C153.27 465.65 155.28 465.1 156.2 465.6C157.12 466.1 156.98 468.1 157.3 469.7C157.62 471.3 157.97 474.28 158.1 475.2M157.7 474.1C158.18 473.23 159.5 470.25 160.6 468.9C161.7 467.55 163.32 466.12 164.3 466C165.28 465.88 165.88 466.6 166.5 468.2C167.12 469.8 167.75 474.37 168 475.6M176.7 452.7m-0.5 0a0.5 0.5 0 1 0 1 0a0.5 0.5 0 1 0 -1 0M175.4 464.9C175.15 465.82 174.15 468.57 173.9 470.4C173.65 472.23 173.9 474.98 173.9 475.9M188.6 465.6C188.12 465.53 186.73 464.77 185.7 465.2C184.67 465.63 183.13 466.85 182.4 468.2C181.67 469.55 181.12 471.95 181.3 473.3C181.48 474.65 182.52 476.05 183.5 476.3C184.48 476.55 186.1 475.9 187.2 474.8C188.3 473.7 189.62 470.55 190.1 469.7M193 452.4C192.77 454.42 191.83 459.97 191.6 464.5C191.37 469.03 191.6 477.08 191.6 479.6M270.8 467.1C270.95 468.07 271.55 470.77 271.7 472.9C271.85 475.03 271.7 478.73 271.7 479.9M272.1 471.1C272.68 470.58 274.13 468.73 275.6 468C277.07 467.27 280.02 466.92 280.9 466.7M289.1 455.6m-0.5 0a0.5 0.5 0 1 0 1 0a0.5 0.5 0 1 0 -1 0M288 468C287.7 468.95 286.42 471.78 286.2 473.7C285.98 475.62 286.62 478.53 286.7 479.5M302.1 466.7C301.37 466.62 298.95 465.62 297.7 466.2C296.45 466.78 295.03 468.72 294.6 470.2C294.17 471.68 294.43 474.22 295.1 475.1C295.77 475.98 297.43 476.02 298.6 475.5C299.77 474.98 301.37 473.25 302.1 472C302.83 470.75 302.85 468.67 303 468M303 468C302.93 469.55 303.18 474.72 302.6 477.3C302.02 479.88 301.2 482.03 299.5 483.5C297.8 484.97 293.58 485.67 292.4 486.1M312.3 455.6C312.08 457.45 311.52 462.8 311 466.7C310.48 470.6 309.5 476.95 309.2 479M310.1 472.4C310.83 471.82 313.03 469.33 314.5 468.9C315.97 468.47 318.02 467.97 318.9 469.8C319.78 471.63 319.65 478.22 319.8 479.9M330.8 457.4C330.43 459.23 329.25 464.65 328.6 468.4C327.95 472.15 327.18 477.98 326.9 479.9M325.5 467.6C326.32 467.55 328.85 467.28 330.4 467.3C331.95 467.32 334.07 467.63 334.8 467.7M151.3 675.6C151.02 676.75 150.08 680.02 149.6 682.5C149.12 684.98 148.52 687.67 148.4 690.5C148.28 693.33 148.82 698 148.9 699.5M154.3 694.1C154.68 694.28 155.82 695.03 156.6 695.2C157.38 695.37 158 695.38 159 695.1C160 694.82 161.53 694.23 162.6 693.5C163.67 692.77 164.82 691.6 165.4 690.7C165.98 689.8 166.23 688.87 166.1 688.1C165.97 687.33 165.23 686.48 164.6 686.1C163.97 685.72 163.07 685.63 162.3 685.8C161.53 685.97 160.62 686.38 160 687.1C159.38 687.82 158.77 688.98 158.6 690.1C158.43 691.22 158.67 692.63 159 693.8C159.33 694.97 159.88 696.27 160.6 697.1C161.32 697.93 162.18 698.55 163.3 698.8C164.42 699.05 166.63 698.63 167.3 698.6M185.5 675.3C184.77 675.43 182.5 674.97 181.1 676.1C179.7 677.23 178.1 679.65 177.1 682.1C176.1 684.55 175.77 687.48 175.1 690.8C174.43 694.12 173.77 699.53 173.1 702C172.43 704.47 171.43 705 171.1 705.6M170.3 692.4C171.43 692.07 174.63 690.95 177.1 690.4C179.57 689.85 183.77 689.32 185.1 689.1M195 676.9C194.6 678.55 193.33 683.02 192.6 686.8C191.87 690.58 190.93 697.47 190.6 699.6M189.4 687.2C190.27 687.17 193 686.93 194.6 687C196.2 687.07 198.27 687.5 199 687.6M214.5 686.6C214.32 687.77 213.7 691.22 213.4 693.6C213.1 695.98 212.82 699.68 212.7 700.9M213.4 695.8C214.13 694.93 216.33 691.65 217.8 690.6C219.27 689.55 221.28 689 222.2 689.5C223.12 690 222.98 692 223.3 693.6C223.62 695.2 223.97 698.18 224.1 699.1M223.7 698C224.18 697.13 225.5 694.15 226.6 692.8C227.7 691.45 229.32 690.02 230.3 689.9C231.28 689.78 231.88 690.5 232.5 692.1C233.12 693.7 233.75 698.27 234 699.5M242.7 676.6m-0.5 0a0.5 0.5 0 1 0 1 0a0.5 0.5 0 1 0 -1 0M241.4 688.8C241.15 689.72 240.15 692.47 239.9 694.3C239.65 696.13 239.9 698.88 239.9 699.8M254.6 689.5C254.12 689.43 252.73 688.67 251.7 689.1C250.67 689.53 249.13 690.75 248.4 692.1C247.67 693.45 247.12 695.85 247.3 697.2C247.48 698.55 248.52 699.95 249.5 700.2C250.48 700.45 252.1 699.8 253.2 698.7C254.3 697.6 255.62 694.45 256.1 693.6M259 676.3C258.77 678.32 257.83 683.87 257.6 688.4C257.37 692.93 257.6 700.98 257.6 703.5M266.7 686.3C266.85 687.27 267.45 689.97 267.6 692.1C267.75 694.23 267.6 697.93 267.6 699.1M268 690.3C268.58 689.78 270.03 687.93 271.5 687.2C272.97 686.47 275.92 686.12 276.8 685.9M285 674.8m-0.5 0a0.5 0.5 0 1 0 1 0a0.5 0.5 0 1 0 -1 0M283.9 687.2C283.6 688.15 282.32 690.98 282.1 692.9C281.88 694.82 282.52 697.73 282.6 698.7M298 685.9C297.27 685.82 294.85 684.82 293.6 685.4C292.35 685.98 290.93 687.92 290.5 689.4C290.07 690.88 290.33 693.42 291 694.3C291.67 695.18 293.33 695.22 294.5 694.7C295.67 694.18 297.27 692.45 298 691.2C298.73 689.95 298.75 687.87 298.9 687.2M298.9 687.2C298.83 688.75 299.08 693.92 298.5 696.5C297.92 699.08 297.1 701.23 295.4 702.7C293.7 704.17 289.48 704.87 288.3 705.3M308.2 674.8C307.98 676.65 307.42 682 306.9 685.9C306.38 689.8 305.4 696.15 305.1 698.2M306 691.6C306.73 691.02 308.93 688.53 310.4 688.1C311.87 687.67 313.92 687.17 314.8 689C315.68 690.83 315.55 697.42 315.7 699.1M326.7 676.6C326.33 678.43 325.15 683.85 324.5 687.6C323.85 691.35 323.08 697.18 322.8 699.1M321.4 686.8C322.22 686.75 324.75 686.48 326.3 686.5C327.85 686.52 329.97 686.83 330.7 686.9"/>
</g>
<g fill="none" stroke="#1e1e1e" stroke-width="1.2" stroke-linecap="round" stroke-linejoin="round">
<path d="M42.55 137.47C42.4 137.38 42.21 137 41.67 136.9C41.13 136.8 40.02 136.8 39.33 136.9C38.63 137 37.81 137.33 37.51 137.47C37.2 137.61 37.62 137.23 37.51 137.73C37.4 138.23 37.04 139.53 36.83 140.49C36.62 141.45 36.36 143 36.26 143.5M36.26 143.5C36.55 143.3 37.27 142.54 37.98 142.31C38.68 142.07 39.74 142.02 40.47 142.1C41.2 142.18 41.94 142.39 42.34 142.78C42.75 143.16 42.99 143.77 42.92 144.39C42.84 145 42.43 145.89 41.88 146.47C41.32 147.05 40.57 147.54 39.59 147.87C38.61 148.2 36.6 148.35 36 148.44M95.92 139.29C96.31 139.07 97.48 138.31 98.26 137.94C99.04 137.57 100.21 137.2 100.6 137.06M100.6 137.06C100.44 137.59 99.92 139.18 99.66 140.28C99.4 141.38 99.16 142.45 99.04 143.66C98.92 144.87 98.95 146.91 98.94 147.56M108.79 136.9C108.58 137.19 107.94 137.91 107.54 138.67C107.14 139.42 106.66 140.47 106.4 141.42C106.13 142.38 105.97 143.55 105.93 144.39C105.88 145.23 105.91 145.85 106.14 146.47C106.36 147.08 106.86 147.73 107.28 148.08C107.7 148.43 108.18 148.55 108.68 148.55C109.19 148.55 109.76 148.43 110.3 148.08C110.83 147.73 111.54 147.01 111.91 146.47C112.27 145.93 112.56 145.25 112.48 144.86C112.4 144.46 111.92 144.19 111.44 144.08C110.96 143.96 110.27 144.01 109.62 144.18C108.97 144.35 108.28 144.69 107.54 145.12C106.8 145.54 105.59 146.46 105.2 146.73M158.5 138.77C158.83 138.6 159.88 138.02 160.48 137.73C161.08 137.45 161.55 137.17 162.09 137.06C162.63 136.94 163.31 136.88 163.7 137.06C164.1 137.23 164.41 137.6 164.48 138.1C164.56 138.59 164.54 139.24 164.17 140.02C163.81 140.8 162.96 141.93 162.3 142.78C161.64 143.63 160.7 144.42 160.22 145.12C159.74 145.81 159.4 146.49 159.44 146.94C159.48 147.38 159.93 147.66 160.48 147.77C161.03 147.88 162.02 147.67 162.77 147.61C163.51 147.55 164.59 147.44 164.95 147.4M174.13 137.16C174.49 137.43 175.74 137.92 176.26 138.77C176.78 139.62 177.2 141.09 177.25 142.26C177.3 143.42 177 144.85 176.58 145.74C176.15 146.63 175.38 147.27 174.7 147.61C174.03 147.95 173.24 147.99 172.52 147.77C171.8 147.54 170.87 146.95 170.39 146.26C169.9 145.57 169.65 144.54 169.61 143.61C169.56 142.67 169.77 141.49 170.13 140.64C170.48 139.79 171.16 139.05 171.74 138.51C172.32 137.97 173.12 137.62 173.61 137.42C174.11 137.22 174.52 137.33 174.7 137.32M222 138.77C222.33 138.6 223.38 138.02 223.98 137.73C224.58 137.45 225.05 137.17 225.59 137.06C226.13 136.94 226.81 136.88 227.2 137.06C227.6 137.23 227.91 137.6 227.98 138.1C228.06 138.59 228.04 139.24 227.67 140.02C227.31 140.8 226.46 141.93 225.8 142.78C225.14 143.63 224.2 144.42 223.72 145.12C223.24 145.81 222.9 146.49 222.94 146.94C222.98 147.38 223.43 147.66 223.98 147.77C224.53 147.88 225.52 147.67 226.27 147.61C227.01 147.55 228.09 147.44 228.45 147.4M231.5 137.63C231.85 137.55 232.89 137.24 233.58 137.16C234.28 137.08 235.05 137.03 235.66 137.16C236.28 137.29 236.91 137.54 237.28 137.94C237.64 138.34 237.83 138.94 237.85 139.55C237.87 140.17 237.6 140.83 237.38 141.63C237.16 142.44 236.83 143.31 236.55 144.39C236.26 145.46 235.81 147.46 235.66 148.08M231.61 143.35C232.02 143.25 233.11 142.89 234.05 142.78C235 142.66 236.11 142.71 237.28 142.67C238.45 142.64 240.44 142.59 241.07 142.57M285.41 138.41C285.66 138.27 286.33 137.79 286.92 137.58C287.51 137.36 288.22 137.17 288.94 137.11C289.67 137.05 290.75 137 291.28 137.21C291.82 137.43 292.13 137.97 292.17 138.41C292.2 138.85 291.99 139.35 291.49 139.86C291 140.38 290.04 140.92 289.2 141.48C288.36 142.03 286.91 142.91 286.45 143.19M286.45 143.19C286.91 143.22 288.36 143.17 289.2 143.35C290.04 143.52 291.03 143.82 291.49 144.23C291.95 144.65 292.07 145.34 291.96 145.84C291.85 146.35 291.39 146.89 290.82 147.25C290.24 147.6 289.41 147.92 288.53 147.98C287.64 148.04 286.01 147.67 285.51 147.61M300.93 137.16C301.29 137.43 302.54 137.92 303.06 138.77C303.58 139.62 304 141.09 304.05 142.26C304.1 143.42 303.8 144.85 303.38 145.74C302.95 146.63 302.18 147.27 301.5 147.61C300.83 147.95 300.04 147.99 299.32 147.77C298.6 147.54 297.67 146.95 297.19 146.26C296.7 145.57 296.45 144.54 296.41 143.61C296.36 142.67 296.57 141.49 296.93 140.64C297.28 139.79 297.96 139.05 298.54 138.51C299.12 137.97 299.92 137.62 300.41 137.42C300.91 137.22 301.32 137.33 301.5 137.32M349.11 138.41C349.36 138.27 350.03 137.79 350.62 137.58C351.21 137.36 351.92 137.17 352.64 137.11C353.37 137.05 354.45 137 354.98 137.21C355.52 137.43 355.83 137.97 355.87 138.41C355.9 138.85 355.69 139.35 355.19 139.86C354.7 140.38 353.74 140.92 352.9 141.48C352.06 142.03 350.61 142.91 350.15 143.19M350.15 143.19C350.61 143.22 352.06 143.17 352.9 143.35C353.74 143.52 354.73 143.82 355.19 144.23C355.65 144.65 355.77 145.34 355.66 145.84C355.55 146.35 355.09 146.89 354.52 147.25C353.94 147.6 353.11 147.92 352.23 147.98C351.34 148.04 349.71 147.67 349.21 147.61M363.49 136.9C363.28 137.19 362.64 137.91 362.24 138.67C361.84 139.42 361.36 140.47 361.1 141.42C360.83 142.38 360.67 143.55 360.63 144.39C360.58 145.23 360.61 145.85 360.84 146.47C361.06 147.08 361.56 147.73 361.98 148.08C362.4 148.43 362.88 148.55 363.38 148.55C363.89 148.55 364.46 148.43 365 148.08C365.53 147.73 366.24 147.01 366.61 146.47C366.97 145.93 367.26 145.25 367.18 144.86C367.1 144.46 366.62 144.19 366.14 144.08C365.66 143.96 364.97 144.01 364.32 144.18C363.67 144.35 362.98 144.69 362.24 145.12C361.5 145.54 360.29 146.46 359.9 146.73M416.32 136.8C416 137.08 415.03 137.9 414.44 138.51C413.85 139.13 413.19 139.79 412.78 140.49C412.37 141.18 411.97 142.02 412 142.67C412.03 143.32 412.45 144.1 412.99 144.39C413.53 144.67 414.32 144.51 415.22 144.39C416.13 144.27 417.38 143.89 418.4 143.66C419.41 143.43 420.82 143.14 421.31 143.04M418.4 139.14C418.27 139.56 417.9 140.77 417.67 141.68C417.43 142.59 417.04 143.27 416.99 144.6C416.95 145.92 417.34 148.8 417.41 149.64M427.42 136.8C427.1 137.08 426.13 137.9 425.54 138.51C424.95 139.13 424.29 139.79 423.88 140.49C423.47 141.18 423.07 142.02 423.1 142.67C423.13 143.32 423.55 144.1 424.09 144.39C424.63 144.67 425.42 144.51 426.32 144.39C427.23 144.27 428.48 143.89 429.5 143.66C430.51 143.43 431.92 143.14 432.41 143.04M429.5 139.14C429.37 139.56 429 140.77 428.77 141.68C428.53 142.59 428.14 143.27 428.09 144.6C428.05 145.92 428.44 148.8 428.51 149.64M483.25 137.47C483.1 137.38 482.91 137 482.37 136.9C481.83 136.8 480.72 136.8 480.03 136.9C479.33 137 478.51 137.33 478.21 137.47C477.9 137.61 478.32 137.23 478.21 137.73C478.1 138.23 477.74 139.53 477.53 140.49C477.32 141.45 477.06 143 476.96 143.5M476.96 143.5C477.25 143.3 477.97 142.54 478.68 142.31C479.38 142.07 480.44 142.02 481.17 142.1C481.9 142.18 482.64 142.39 483.04 142.78C483.45 143.16 483.69 143.77 483.62 144.39C483.54 145 483.13 145.89 482.58 146.47C482.02 147.05 481.27 147.54 480.29 147.87C479.31 148.2 477.3 148.35 476.7 148.44M494.85 137.47C494.7 137.38 494.51 137 493.97 136.9C493.43 136.8 492.32 136.8 491.63 136.9C490.93 137 490.11 137.33 489.81 137.47C489.5 137.61 489.92 137.23 489.81 137.73C489.7 138.23 489.34 139.53 489.13 140.49C488.92 141.45 488.66 143 488.56 143.5M488.56 143.5C488.85 143.3 489.57 142.54 490.28 142.31C490.98 142.07 492.04 142.02 492.77 142.1C493.5 142.18 494.24 142.39 494.64 142.78C495.05 143.16 495.29 143.77 495.22 144.39C495.14 145 494.73 145.89 494.18 146.47C493.62 147.05 492.87 147.54 491.89 147.87C490.91 148.2 488.9 148.35 488.3 148.44M543.79 136.9C543.58 137.19 542.94 137.91 542.54 138.67C542.14 139.42 541.66 140.47 541.4 141.42C541.13 142.38 540.97 143.55 540.93 144.39C540.88 145.23 540.91 145.85 541.14 146.47C541.36 147.08 541.86 147.73 542.28 148.08C542.7 148.43 543.18 148.55 543.68 148.55C544.19 148.55 544.76 148.43 545.3 148.08C545.83 147.73 546.54 147.01 546.91 146.47C547.27 145.93 547.56 145.25 547.48 144.86C547.4 144.46 546.92 144.19 546.44 144.08C545.96 143.96 545.27 144.01 544.62 144.18C543.97 144.35 543.28 144.69 542.54 145.12C541.8 145.54 540.59 146.46 540.2 146.73M556.03 137.16C556.39 137.43 557.64 137.92 558.16 138.77C558.68 139.62 559.1 141.09 559.15 142.26C559.2 143.42 558.9 144.85 558.48 145.74C558.05 146.63 557.28 147.27 556.6 147.61C555.93 147.95 555.14 147.99 554.42 147.77C553.7 147.54 552.77 146.95 552.29 146.26C551.8 145.57 551.55 144.54 551.51 143.61C551.46 142.67 551.67 141.49 552.03 140.64C552.38 139.79 553.06 139.05 553.64 138.51C554.22 137.97 555.02 137.62 555.51 137.42C556.01 137.22 556.42 137.33 556.6 137.32M608.09 136.9C607.88 137.19 607.24 137.91 606.84 138.67C606.44 139.42 605.96 140.47 605.7 141.42C605.43 142.38 605.27 143.55 605.23 144.39C605.18 145.23 605.21 145.85 605.44 146.47C605.66 147.08 606.16 147.73 606.58 148.08C607 148.43 607.48 148.55 607.98 148.55C608.49 148.55 609.06 148.43 609.6 148.08C610.13 147.73 610.84 147.01 611.21 146.47C611.57 145.93 611.86 145.25 611.78 144.86C611.7 144.46 611.22 144.19 610.74 144.08C610.26 143.96 609.57 144.01 608.92 144.18C608.27 144.35 607.58 144.69 606.84 145.12C606.1 145.54 604.89 146.46 604.5 146.73M614.6 137.63C614.95 137.55 615.99 137.24 616.68 137.16C617.38 137.08 618.15 137.03 618.76 137.16C619.38 137.29 620.01 137.54 620.38 137.94C620.74 138.34 620.93 138.94 620.95 139.55C620.97 140.17 620.7 140.83 620.48 141.63C620.26 142.44 619.93 143.31 619.65 144.39C619.36 145.46 618.91 147.46 618.76 148.08M614.71 143.35C615.12 143.25 616.21 142.89 617.15 142.78C618.1 142.66 619.21 142.71 620.38 142.67C621.55 142.64 623.54 142.59 624.17 142.57M667.1 138.53C667.45 138.45 668.49 138.14 669.18 138.06C669.88 137.98 670.65 137.93 671.26 138.06C671.88 138.19 672.51 138.44 672.88 138.84C673.24 139.24 673.43 139.84 673.45 140.45C673.47 141.07 673.2 141.73 672.98 142.53C672.76 143.34 672.43 144.21 672.15 145.29C671.86 146.36 671.41 148.36 671.26 148.98M667.21 144.25C667.62 144.15 668.71 143.79 669.65 143.68C670.6 143.56 671.71 143.61 672.88 143.57C674.05 143.54 676.04 143.49 676.67 143.47M681.22 140.19C681.61 139.97 682.78 139.21 683.56 138.84C684.34 138.47 685.51 138.1 685.9 137.96M685.9 137.96C685.74 138.49 685.22 140.08 684.96 141.18C684.7 142.28 684.46 143.35 684.34 144.56C684.22 145.77 684.25 147.81 684.24 148.46M42.85 365.77C42.7 365.68 42.51 365.3 41.97 365.2C41.43 365.1 40.32 365.1 39.63 365.2C38.93 365.3 38.11 365.63 37.81 365.77C37.5 365.91 37.92 365.53 37.81 366.03C37.7 366.53 37.34 367.83 37.13 368.79C36.92 369.75 36.66 371.3 36.56 371.8M36.56 371.8C36.85 371.6 37.57 370.84 38.28 370.61C38.98 370.37 40.04 370.32 40.77 370.4C41.5 370.48 42.24 370.69 42.64 371.08C43.05 371.46 43.29 372.07 43.22 372.69C43.14 373.3 42.73 374.19 42.18 374.77C41.62 375.35 40.87 375.84 39.89 376.17C38.91 376.5 36.9 376.65 36.3 376.74M96.22 367.59C96.61 367.37 97.78 366.61 98.56 366.24C99.34 365.87 100.51 365.5 100.9 365.36M100.9 365.36C100.74 365.89 100.22 367.48 99.96 368.58C99.7 369.68 99.46 370.75 99.34 371.96C99.22 373.17 99.25 375.21 99.24 375.86M109.09 365.2C108.88 365.49 108.24 366.21 107.84 366.97C107.44 367.72 106.96 368.77 106.7 369.72C106.43 370.68 106.27 371.85 106.23 372.69C106.18 373.53 106.21 374.15 106.44 374.77C106.66 375.38 107.16 376.03 107.58 376.38C108 376.73 108.48 376.85 108.98 376.85C109.49 376.85 110.06 376.73 110.6 376.38C111.13 376.03 111.84 375.31 112.21 374.77C112.57 374.23 112.86 373.55 112.78 373.16C112.7 372.76 112.22 372.49 111.74 372.38C111.26 372.26 110.57 372.31 109.92 372.48C109.27 372.65 108.58 372.99 107.84 373.42C107.1 373.84 105.89 374.76 105.5 375.03M158.8 367.07C159.13 366.9 160.18 366.32 160.78 366.03C161.38 365.75 161.85 365.47 162.39 365.36C162.93 365.24 163.61 365.18 164 365.36C164.4 365.53 164.71 365.9 164.78 366.4C164.86 366.89 164.84 367.54 164.47 368.32C164.11 369.1 163.26 370.23 162.6 371.08C161.94 371.93 161 372.72 160.52 373.42C160.04 374.11 159.7 374.79 159.74 375.24C159.78 375.68 160.23 375.96 160.78 376.07C161.33 376.18 162.32 375.97 163.07 375.91C163.81 375.85 164.89 375.74 165.25 375.7M174.43 365.46C174.79 365.73 176.04 366.22 176.56 367.07C177.08 367.92 177.5 369.39 177.55 370.56C177.6 371.72 177.3 373.15 176.88 374.04C176.45 374.93 175.68 375.57 175 375.91C174.33 376.25 173.54 376.29 172.82 376.07C172.1 375.84 171.17 375.25 170.69 374.56C170.2 373.87 169.95 372.84 169.91 371.91C169.86 370.97 170.07 369.79 170.43 368.94C170.78 368.09 171.46 367.35 172.04 366.81C172.62 366.27 173.42 365.92 173.91 365.72C174.41 365.52 174.82 365.63 175 365.62M222.3 367.07C222.63 366.9 223.68 366.32 224.28 366.03C224.88 365.75 225.35 365.47 225.89 365.36C226.43 365.24 227.11 365.18 227.5 365.36C227.9 365.53 228.21 365.9 228.28 366.4C228.36 366.89 228.34 367.54 227.97 368.32C227.61 369.1 226.76 370.23 226.1 371.08C225.44 371.93 224.5 372.72 224.02 373.42C223.54 374.11 223.2 374.79 223.24 375.24C223.28 375.68 223.73 375.96 224.28 376.07C224.83 376.18 225.82 375.97 226.57 375.91C227.31 375.85 228.39 375.74 228.75 375.7M231.8 365.93C232.15 365.85 233.19 365.54 233.88 365.46C234.58 365.38 235.35 365.33 235.96 365.46C236.58 365.59 237.21 365.84 237.58 366.24C237.94 366.64 238.13 367.24 238.15 367.85C238.17 368.47 237.9 369.13 237.68 369.93C237.46 370.74 237.13 371.61 236.85 372.69C236.56 373.76 236.11 375.76 235.96 376.38M231.91 371.65C232.32 371.55 233.41 371.19 234.35 371.08C235.3 370.96 236.41 371.01 237.58 370.97C238.75 370.94 240.74 370.89 241.37 370.87M285.71 366.71C285.96 366.57 286.63 366.09 287.22 365.88C287.81 365.66 288.52 365.47 289.24 365.41C289.97 365.35 291.05 365.3 291.58 365.51C292.12 365.73 292.43 366.27 292.47 366.71C292.5 367.15 292.29 367.65 291.79 368.16C291.3 368.68 290.34 369.22 289.5 369.78C288.66 370.33 287.21 371.21 286.75 371.49M286.75 371.49C287.21 371.52 288.66 371.47 289.5 371.65C290.34 371.82 291.33 372.12 291.79 372.53C292.25 372.95 292.37 373.64 292.26 374.14C292.15 374.65 291.69 375.19 291.12 375.55C290.54 375.9 289.71 376.22 288.83 376.28C287.94 376.34 286.31 375.97 285.81 375.91M301.23 365.46C301.59 365.73 302.84 366.22 303.36 367.07C303.88 367.92 304.3 369.39 304.35 370.56C304.4 371.72 304.1 373.15 303.68 374.04C303.25 374.93 302.48 375.57 301.8 375.91C301.13 376.25 300.34 376.29 299.62 376.07C298.9 375.84 297.97 375.25 297.49 374.56C297 373.87 296.75 372.84 296.71 371.91C296.66 370.97 296.87 369.79 297.23 368.94C297.58 368.09 298.26 367.35 298.84 366.81C299.42 366.27 300.22 365.92 300.71 365.72C301.21 365.52 301.62 365.63 301.8 365.62M349.41 366.71C349.66 366.57 350.33 366.09 350.92 365.88C351.51 365.66 352.22 365.47 352.94 365.41C353.67 365.35 354.75 365.3 355.28 365.51C355.82 365.73 356.13 366.27 356.17 366.71C356.2 367.15 355.99 367.65 355.49 368.16C355 368.68 354.04 369.22 353.2 369.78C352.36 370.33 350.91 371.21 350.45 371.49M350.45 371.49C350.91 371.52 352.36 371.47 353.2 371.65C354.04 371.82 355.03 372.12 355.49 372.53C355.95 372.95 356.07 373.64 355.96 374.14C355.85 374.65 355.39 375.19 354.82 375.55C354.24 375.9 353.41 376.22 352.53 376.28C351.64 376.34 350.01 375.97 349.51 375.91M363.79 365.2C363.58 365.49 362.94 366.21 362.54 366.97C362.14 367.72 361.66 368.77 361.4 369.72C361.13 370.68 360.97 371.85 360.93 372.69C360.88 373.53 360.91 374.15 361.14 374.77C361.36 375.38 361.86 376.03 362.28 376.38C362.7 376.73 363.18 376.85 363.68 376.85C364.19 376.85 364.76 376.73 365.3 376.38C365.83 376.03 366.54 375.31 366.91 374.77C367.27 374.23 367.56 373.55 367.48 373.16C367.4 372.76 366.92 372.49 366.44 372.38C365.96 372.26 365.27 372.31 364.62 372.48C363.97 372.65 363.28 372.99 362.54 373.42C361.8 373.84 360.59 374.76 360.2 375.03M416.62 365.1C416.3 365.38 415.33 366.2 414.74 366.81C414.15 367.43 413.49 368.09 413.08 368.79C412.67 369.48 412.27 370.32 412.3 370.97C412.33 371.62 412.75 372.4 413.29 372.69C413.83 372.97 414.62 372.81 415.52 372.69C416.43 372.57 417.68 372.19 418.7 371.96C419.71 371.73 421.12 371.44 421.61 371.34M418.7 367.44C418.57 367.86 418.2 369.07 417.97 369.98C417.73 370.89 417.34 371.57 417.29 372.9C417.25 374.22 417.64 377.1 417.71 377.94M427.72 365.1C427.4 365.38 426.43 366.2 425.84 366.81C425.25 367.43 424.59 368.09 424.18 368.79C423.77 369.48 423.37 370.32 423.4 370.97C423.43 371.62 423.85 372.4 424.39 372.69C424.93 372.97 425.72 372.81 426.62 372.69C427.53 372.57 428.78 372.19 429.8 371.96C430.81 371.73 432.22 371.44 432.71 371.34M429.8 367.44C429.67 367.86 429.3 369.07 429.07 369.98C428.83 370.89 428.44 371.57 428.39 372.9C428.35 374.22 428.74 377.1 428.81 377.94M483.55 365.77C483.4 365.68 483.21 365.3 482.67 365.2C482.13 365.1 481.02 365.1 480.33 365.2C479.63 365.3 478.81 365.63 478.51 365.77C478.2 365.91 478.62 365.53 478.51 366.03C478.4 366.53 478.04 367.83 477.83 368.79C477.62 369.75 477.36 371.3 477.26 371.8M477.26 371.8C477.55 371.6 478.27 370.84 478.98 370.61C479.68 370.37 480.74 370.32 481.47 370.4C482.2 370.48 482.94 370.69 483.34 371.08C483.75 371.46 483.99 372.07 483.92 372.69C483.84 373.3 483.43 374.19 482.88 374.77C482.32 375.35 481.57 375.84 480.59 376.17C479.61 376.5 477.6 376.65 477 376.74M495.15 365.77C495 365.68 494.81 365.3 494.27 365.2C493.73 365.1 492.62 365.1 491.93 365.2C491.23 365.3 490.41 365.63 490.11 365.77C489.8 365.91 490.22 365.53 490.11 366.03C490 366.53 489.64 367.83 489.43 368.79C489.22 369.75 488.96 371.3 488.86 371.8M488.86 371.8C489.15 371.6 489.87 370.84 490.58 370.61C491.28 370.37 492.34 370.32 493.07 370.4C493.8 370.48 494.54 370.69 494.94 371.08C495.35 371.46 495.59 372.07 495.52 372.69C495.44 373.3 495.03 374.19 494.48 374.77C493.92 375.35 493.17 375.84 492.19 376.17C491.21 376.5 489.2 376.65 488.6 376.74M544.09 365.2C543.88 365.49 543.24 366.21 542.84 366.97C542.44 367.72 541.96 368.77 541.7 369.72C541.43 370.68 541.27 371.85 541.23 372.69C541.18 373.53 541.21 374.15 541.44 374.77C541.66 375.38 542.16 376.03 542.58 376.38C543 376.73 543.48 376.85 543.98 376.85C544.49 376.85 545.06 376.73 545.6 376.38C546.13 376.03 546.84 375.31 547.21 374.77C547.57 374.23 547.86 373.55 547.78 373.16C547.7 372.76 547.22 372.49 546.74 372.38C546.26 372.26 545.57 372.31 544.92 372.48C544.27 372.65 543.58 372.99 542.84 373.42C542.1 373.84 540.89 374.76 540.5 375.03M556.33 365.46C556.69 365.73 557.94 366.22 558.46 367.07C558.98 367.92 559.4 369.39 559.45 370.56C559.5 371.72 559.2 373.15 558.78 374.04C558.35 374.93 557.58 375.57 556.9 375.91C556.23 376.25 555.44 376.29 554.72 376.07C554 375.84 553.07 375.25 552.59 374.56C552.1 373.87 551.85 372.84 551.81 371.91C551.76 370.97 551.97 369.79 552.33 368.94C552.68 368.09 553.36 367.35 553.94 366.81C554.52 366.27 555.32 365.92 555.81 365.72C556.31 365.52 556.72 365.63 556.9 365.62M608.39 365.2C608.18 365.49 607.54 366.21 607.14 366.97C606.74 367.72 606.26 368.77 606 369.72C605.73 370.68 605.57 371.85 605.53 372.69C605.48 373.53 605.51 374.15 605.74 374.77C605.96 375.38 606.46 376.03 606.88 376.38C607.3 376.73 607.78 376.85 608.28 376.85C608.79 376.85 609.36 376.73 609.9 376.38C610.43 376.03 611.14 375.31 611.51 374.77C611.87 374.23 612.16 373.55 612.08 373.16C612 372.76 611.52 372.49 611.04 372.38C610.56 372.26 609.87 372.31 609.22 372.48C608.57 372.65 607.88 372.99 607.14 373.42C606.4 373.84 605.19 374.76 604.8 375.03M614.9 365.93C615.25 365.85 616.29 365.54 616.98 365.46C617.68 365.38 618.45 365.33 619.06 365.46C619.68 365.59 620.31 365.84 620.68 366.24C621.04 366.64 621.23 367.24 621.25 367.85C621.27 368.47 621 369.13 620.78 369.93C620.56 370.74 620.23 371.61 619.95 372.69C619.66 373.76 619.21 375.76 619.06 376.38M615.01 371.65C615.42 371.55 616.51 371.19 617.45 371.08C618.4 370.96 619.51 371.01 620.68 370.97C621.85 370.94 623.84 370.89 624.47 370.87M667.4 366.83C667.75 366.75 668.79 366.44 669.48 366.36C670.18 366.28 670.95 366.23 671.56 366.36C672.18 366.49 672.81 366.74 673.18 367.14C673.54 367.54 673.73 368.14 673.75 368.75C673.77 369.37 673.5 370.03 673.28 370.83C673.06 371.64 672.73 372.51 672.45 373.59C672.16 374.66 671.71 376.66 671.56 377.28M667.51 372.55C667.92 372.45 669.01 372.09 669.95 371.98C670.9 371.86 672.01 371.91 673.18 371.87C674.35 371.84 676.34 371.79 676.97 371.77M681.52 368.49C681.91 368.27 683.08 367.51 683.86 367.14C684.64 366.77 685.81 366.4 686.2 366.26M686.2 366.26C686.04 366.79 685.52 368.38 685.26 369.48C685 370.58 684.76 371.65 684.64 372.86C684.52 374.07 684.55 376.11 684.54 376.76M45.05 585.47C44.9 585.38 44.71 585 44.17 584.9C43.63 584.8 42.52 584.8 41.83 584.9C41.13 585 40.31 585.33 40.01 585.47C39.7 585.61 40.12 585.23 40.01 585.73C39.9 586.23 39.54 587.53 39.33 588.49C39.12 589.45 38.86 591 38.76 591.5M38.76 591.5C39.05 591.3 39.77 590.54 40.48 590.31C41.18 590.07 42.24 590.02 42.97 590.1C43.7 590.18 44.44 590.39 44.84 590.78C45.25 591.16 45.49 591.77 45.42 592.39C45.34 593 44.93 593.89 44.38 594.47C43.82 595.05 43.07 595.54 42.09 595.87C41.11 596.2 39.1 596.35 38.5 596.44M98.42 587.29C98.81 587.07 99.98 586.31 100.76 585.94C101.54 585.57 102.71 585.2 103.1 585.06M103.1 585.06C102.94 585.59 102.42 587.18 102.16 588.28C101.9 589.38 101.66 590.45 101.54 591.66C101.42 592.87 101.45 594.91 101.44 595.56M111.29 584.9C111.08 585.19 110.44 585.91 110.04 586.67C109.64 587.42 109.16 588.47 108.9 589.42C108.63 590.38 108.47 591.55 108.43 592.39C108.38 593.23 108.41 593.85 108.64 594.47C108.86 595.08 109.36 595.73 109.78 596.08C110.2 596.43 110.68 596.55 111.18 596.55C111.69 596.55 112.26 596.43 112.8 596.08C113.33 595.73 114.04 595.01 114.41 594.47C114.77 593.93 115.06 593.25 114.98 592.86C114.9 592.46 114.42 592.19 113.94 592.08C113.46 591.96 112.77 592.01 112.12 592.18C111.47 592.35 110.78 592.69 110.04 593.12C109.3 593.54 108.09 594.46 107.7 594.73M161 586.77C161.33 586.6 162.38 586.02 162.98 585.73C163.58 585.45 164.05 585.17 164.59 585.06C165.13 584.94 165.81 584.88 166.2 585.06C166.6 585.23 166.91 585.6 166.98 586.1C167.06 586.59 167.04 587.24 166.67 588.02C166.31 588.8 165.46 589.93 164.8 590.78C164.14 591.63 163.2 592.42 162.72 593.12C162.24 593.81 161.9 594.49 161.94 594.94C161.98 595.38 162.43 595.66 162.98 595.77C163.53 595.88 164.52 595.67 165.27 595.61C166.01 595.55 167.09 595.44 167.45 595.4M176.63 585.16C176.99 585.43 178.24 585.92 178.76 586.77C179.28 587.62 179.7 589.09 179.75 590.26C179.8 591.42 179.5 592.85 179.08 593.74C178.65 594.63 177.88 595.27 177.2 595.61C176.53 595.95 175.74 595.99 175.02 595.77C174.3 595.54 173.37 594.95 172.89 594.26C172.4 593.57 172.15 592.54 172.11 591.61C172.06 590.67 172.27 589.49 172.63 588.64C172.98 587.79 173.66 587.05 174.24 586.51C174.82 585.97 175.62 585.62 176.11 585.42C176.61 585.22 177.02 585.33 177.2 585.32M224.5 586.77C224.83 586.6 225.88 586.02 226.48 585.73C227.08 585.45 227.55 585.17 228.09 585.06C228.63 584.94 229.31 584.88 229.7 585.06C230.1 585.23 230.41 585.6 230.48 586.1C230.56 586.59 230.54 587.24 230.17 588.02C229.81 588.8 228.96 589.93 228.3 590.78C227.64 591.63 226.7 592.42 226.22 593.12C225.74 593.81 225.4 594.49 225.44 594.94C225.48 595.38 225.93 595.66 226.48 595.77C227.03 595.88 228.02 595.67 228.77 595.61C229.51 595.55 230.59 595.44 230.95 595.4M234 585.63C234.35 585.55 235.39 585.24 236.08 585.16C236.78 585.08 237.55 585.03 238.16 585.16C238.78 585.29 239.41 585.54 239.78 585.94C240.14 586.34 240.33 586.94 240.35 587.55C240.37 588.17 240.1 588.83 239.88 589.63C239.66 590.44 239.33 591.31 239.05 592.39C238.76 593.46 238.31 595.46 238.16 596.08M234.11 591.35C234.52 591.25 235.61 590.89 236.55 590.78C237.5 590.66 238.61 590.71 239.78 590.67C240.95 590.64 242.94 590.59 243.57 590.57M287.91 586.41C288.16 586.27 288.83 585.79 289.42 585.58C290.01 585.36 290.72 585.17 291.44 585.11C292.17 585.05 293.25 585 293.78 585.21C294.32 585.43 294.63 585.97 294.67 586.41C294.7 586.85 294.49 587.35 293.99 587.86C293.5 588.38 292.54 588.92 291.7 589.48C290.86 590.03 289.41 590.91 288.95 591.19M288.95 591.19C289.41 591.22 290.86 591.17 291.7 591.35C292.54 591.52 293.53 591.82 293.99 592.23C294.45 592.65 294.57 593.34 294.46 593.84C294.35 594.35 293.89 594.89 293.32 595.25C292.74 595.6 291.91 595.92 291.03 595.98C290.14 596.04 288.51 595.67 288.01 595.61M303.43 585.16C303.79 585.43 305.04 585.92 305.56 586.77C306.08 587.62 306.5 589.09 306.55 590.26C306.6 591.42 306.3 592.85 305.88 593.74C305.45 594.63 304.68 595.27 304 595.61C303.33 595.95 302.54 595.99 301.82 595.77C301.1 595.54 300.17 594.95 299.69 594.26C299.2 593.57 298.95 592.54 298.91 591.61C298.86 590.67 299.07 589.49 299.43 588.64C299.78 587.79 300.46 587.05 301.04 586.51C301.62 585.97 302.42 585.62 302.91 585.42C303.41 585.22 303.82 585.33 304 585.32M351.61 586.41C351.86 586.27 352.53 585.79 353.12 585.58C353.71 585.36 354.42 585.17 355.14 585.11C355.87 585.05 356.95 585 357.48 585.21C358.02 585.43 358.33 585.97 358.37 586.41C358.4 586.85 358.19 587.35 357.69 587.86C357.2 588.38 356.24 588.92 355.4 589.48C354.56 590.03 353.11 590.91 352.65 591.19M352.65 591.19C353.11 591.22 354.56 591.17 355.4 591.35C356.24 591.52 357.23 591.82 357.69 592.23C358.15 592.65 358.27 593.34 358.16 593.84C358.05 594.35 357.59 594.89 357.02 595.25C356.44 595.6 355.61 595.92 354.73 595.98C353.84 596.04 352.21 595.67 351.71 595.61M365.99 584.9C365.78 585.19 365.14 585.91 364.74 586.67C364.34 587.42 363.86 588.47 363.6 589.42C363.33 590.38 363.17 591.55 363.13 592.39C363.08 593.23 363.11 593.85 363.34 594.47C363.56 595.08 364.06 595.73 364.48 596.08C364.9 596.43 365.38 596.55 365.88 596.55C366.39 596.55 366.96 596.43 367.5 596.08C368.03 595.73 368.74 595.01 369.11 594.47C369.47 593.93 369.76 593.25 369.68 592.86C369.6 592.46 369.12 592.19 368.64 592.08C368.16 591.96 367.47 592.01 366.82 592.18C366.17 592.35 365.48 592.69 364.74 593.12C364 593.54 362.79 594.46 362.4 594.73M418.82 584.8C418.5 585.08 417.53 585.9 416.94 586.51C416.35 587.13 415.69 587.79 415.28 588.49C414.87 589.18 414.47 590.02 414.5 590.67C414.53 591.32 414.95 592.1 415.49 592.39C416.03 592.67 416.82 592.51 417.72 592.39C418.63 592.27 419.88 591.89 420.9 591.66C421.91 591.43 423.32 591.14 423.81 591.04M420.9 587.14C420.77 587.56 420.4 588.77 420.17 589.68C419.93 590.59 419.54 591.27 419.49 592.6C419.45 593.92 419.84 596.8 419.91 597.64M429.92 584.8C429.6 585.08 428.63 585.9 428.04 586.51C427.45 587.13 426.79 587.79 426.38 588.49C425.97 589.18 425.57 590.02 425.6 590.67C425.63 591.32 426.05 592.1 426.59 592.39C427.13 592.67 427.92 592.51 428.82 592.39C429.73 592.27 430.98 591.89 432 591.66C433.01 591.43 434.42 591.14 434.91 591.04M432 587.14C431.87 587.56 431.5 588.77 431.27 589.68C431.03 590.59 430.64 591.27 430.59 592.6C430.55 593.92 430.94 596.8 431.01 597.64M485.75 585.47C485.6 585.38 485.41 585 484.87 584.9C484.33 584.8 483.22 584.8 482.53 584.9C481.83 585 481.01 585.33 480.71 585.47C480.4 585.61 480.82 585.23 480.71 585.73C480.6 586.23 480.24 587.53 480.03 588.49C479.82 589.45 479.56 591 479.46 591.5M479.46 591.5C479.75 591.3 480.47 590.54 481.18 590.31C481.88 590.07 482.94 590.02 483.67 590.1C484.4 590.18 485.14 590.39 485.54 590.78C485.95 591.16 486.19 591.77 486.12 592.39C486.04 593 485.63 593.89 485.08 594.47C484.52 595.05 483.77 595.54 482.79 595.87C481.81 596.2 479.8 596.35 479.2 596.44M497.35 585.47C497.2 585.38 497.01 585 496.47 584.9C495.93 584.8 494.82 584.8 494.13 584.9C493.43 585 492.61 585.33 492.31 585.47C492 585.61 492.42 585.23 492.31 585.73C492.2 586.23 491.84 587.53 491.63 588.49C491.42 589.45 491.16 591 491.06 591.5M491.06 591.5C491.35 591.3 492.07 590.54 492.78 590.31C493.48 590.07 494.54 590.02 495.27 590.1C496 590.18 496.74 590.39 497.14 590.78C497.55 591.16 497.79 591.77 497.72 592.39C497.64 593 497.23 593.89 496.68 594.47C496.12 595.05 495.37 595.54 494.39 595.87C493.41 596.2 491.4 596.35 490.8 596.44M546.29 584.9C546.08 585.19 545.44 585.91 545.04 586.67C544.64 587.42 544.16 588.47 543.9 589.42C543.63 590.38 543.47 591.55 543.43 592.39C543.38 593.23 543.41 593.85 543.64 594.47C543.86 595.08 544.36 595.73 544.78 596.08C545.2 596.43 545.68 596.55 546.18 596.55C546.69 596.55 547.26 596.43 547.8 596.08C548.33 595.73 549.04 595.01 549.41 594.47C549.77 593.93 550.06 593.25 549.98 592.86C549.9 592.46 549.42 592.19 548.94 592.08C548.46 591.96 547.77 592.01 547.12 592.18C546.47 592.35 545.78 592.69 545.04 593.12C544.3 593.54 543.09 594.46 542.7 594.73M558.53 585.16C558.89 585.43 560.14 585.92 560.66 586.77C561.18 587.62 561.6 589.09 561.65 590.26C561.7 591.42 561.4 592.85 560.98 593.74C560.55 594.63 559.78 595.27 559.1 595.61C558.43 595.95 557.64 595.99 556.92 595.77C556.2 595.54 555.27 594.95 554.79 594.26C554.3 593.57 554.05 592.54 554.01 591.61C553.96 590.67 554.17 589.49 554.53 588.64C554.88 587.79 555.56 587.05 556.14 586.51C556.72 585.97 557.52 585.62 558.01 585.42C558.51 585.22 558.92 585.33 559.1 585.32M610.59 584.9C610.38 585.19 609.74 585.91 609.34 586.67C608.94 587.42 608.46 588.47 608.2 589.42C607.93 590.38 607.77 591.55 607.73 592.39C607.68 593.23 607.71 593.85 607.94 594.47C608.16 595.08 608.66 595.73 609.08 596.08C609.5 596.43 609.98 596.55 610.48 596.55C610.99 596.55 611.56 596.43 612.1 596.08C612.63 595.73 613.34 595.01 613.71 594.47C614.07 593.93 614.36 593.25 614.28 592.86C614.2 592.46 613.72 592.19 613.24 592.08C612.76 591.96 612.07 592.01 611.42 592.18C610.77 592.35 610.08 592.69 609.34 593.12C608.6 593.54 607.39 594.46 607 594.73M617.1 585.63C617.45 585.55 618.49 585.24 619.18 585.16C619.88 585.08 620.65 585.03 621.26 585.16C621.88 585.29 622.51 585.54 622.88 585.94C623.24 586.34 623.43 586.94 623.45 587.55C623.47 588.17 623.2 588.83 622.98 589.63C622.76 590.44 622.43 591.31 622.15 592.39C621.86 593.46 621.41 595.46 621.26 596.08M617.21 591.35C617.62 591.25 618.71 590.89 619.65 590.78C620.6 590.66 621.71 590.71 622.88 590.67C624.05 590.64 626.04 590.59 626.67 590.57M669.6 586.53C669.95 586.45 670.99 586.14 671.68 586.06C672.38 585.98 673.15 585.93 673.76 586.06C674.38 586.19 675.01 586.44 675.38 586.84C675.74 587.24 675.93 587.84 675.95 588.45C675.97 589.07 675.7 589.73 675.48 590.53C675.26 591.34 674.93 592.21 674.65 593.29C674.36 594.36 673.91 596.36 673.76 596.98M669.71 592.25C670.12 592.15 671.21 591.79 672.15 591.68C673.1 591.56 674.21 591.61 675.38 591.57C676.55 591.54 678.54 591.49 679.17 591.47M683.72 588.19C684.11 587.97 685.28 587.21 686.06 586.84C686.84 586.47 688.01 586.1 688.4 585.96M688.4 585.96C688.24 586.49 687.72 588.08 687.46 589.18C687.2 590.28 686.96 591.35 686.84 592.56C686.72 593.77 686.75 595.81 686.74 596.46"/>
</g>
<g fill="none" stroke="#2f9e44" stroke-width="1.4" stroke-linecap="round" stroke-linejoin="round">
<path d="M780.88 151.56C781.59 151.81 783.69 152.44 785.15 153.03C786.6 153.62 788.25 154.25 789.61 155.09C790.98 155.92 792.13 156.89 793.32 158.04C794.52 159.18 795.67 160.49 796.77 161.97C797.86 163.44 799.02 165.14 799.91 166.88C800.8 168.61 801.41 170.49 802.09 172.36C802.76 174.24 803.43 176.13 803.97 178.12C804.5 180.11 805.05 182.27 805.27 184.29C805.49 186.32 805.28 188.28 805.27 190.28C805.26 192.28 805.48 194.24 805.21 196.3C804.94 198.36 804.18 200.58 803.66 202.61C803.14 204.64 802.74 206.67 802.1 208.49C801.46 210.31 800.69 211.91 799.85 213.52C799 215.13 798.1 216.71 797.03 218.16C795.95 219.6 794.64 221.03 793.39 222.21C792.15 223.39 790.86 224.36 789.55 225.26C788.25 226.17 786.92 226.98 785.57 227.66C784.22 228.34 782.91 229.02 781.45 229.36C779.99 229.7 778.34 229.66 776.81 229.69C775.29 229.72 773.75 229.75 772.28 229.53C770.81 229.3 769.38 228.88 767.99 228.35C766.6 227.82 765.31 227.24 763.95 226.34C762.59 225.45 761.1 224.15 759.84 222.97C758.58 221.8 757.5 220.74 756.4 219.31C755.3 217.87 754.14 216.12 753.25 214.38C752.36 212.64 751.76 210.7 751.06 208.88C750.37 207.07 749.52 205.44 749.06 203.49C748.59 201.53 748.5 199.21 748.26 197.14C748.01 195.08 747.58 193.13 747.58 191.08C747.59 189.03 747.96 186.86 748.29 184.82C748.62 182.77 749.1 180.82 749.56 178.81C750.02 176.8 750.42 174.6 751.06 172.75C751.7 170.9 752.49 169.34 753.39 167.7C754.28 166.06 755.38 164.32 756.42 162.9C757.47 161.47 758.45 160.33 759.66 159.15C760.86 157.96 762.27 156.73 763.64 155.79C765.02 154.86 766.57 154.18 767.92 153.53C769.27 152.88 770.31 152.27 771.74 151.89C773.18 151.5 775.01 151.3 776.54 151.21C778.08 151.13 779.52 151.07 780.95 151.37C782.38 151.68 783.72 152.42 785.14 153.06C786.56 153.69 788.76 154.82 789.48 155.17M780.82 151.94C781.52 152.18 783.62 152.72 785.03 153.36C786.44 154 787.94 154.92 789.29 155.79C790.65 156.66 791.97 157.5 793.16 158.59C794.35 159.69 795.31 160.96 796.41 162.35C797.5 163.73 798.83 165.28 799.74 166.91C800.65 168.54 801.18 170.27 801.87 172.15C802.57 174.03 803.39 176.16 803.93 178.17C804.47 180.19 804.91 182.24 805.14 184.22C805.37 186.2 805.27 188.03 805.3 190.07C805.34 192.12 805.52 194.41 805.35 196.5C805.18 198.59 804.8 200.65 804.28 202.64C803.77 204.62 803.01 206.49 802.26 208.39C801.52 210.29 800.69 212.35 799.83 214.02C798.97 215.7 798.14 217.04 797.09 218.44C796.05 219.84 794.82 221.2 793.56 222.43C792.29 223.66 790.82 224.88 789.5 225.84C788.17 226.79 786.99 227.57 785.61 228.15C784.23 228.74 782.69 229.13 781.2 229.36C779.71 229.59 778.11 229.51 776.67 229.52C775.24 229.54 774.04 229.7 772.59 229.46C771.14 229.23 769.38 228.76 767.96 228.11C766.54 227.46 765.39 226.45 764.08 225.56C762.78 224.67 761.37 223.9 760.13 222.79C758.88 221.68 757.71 220.37 756.6 218.91C755.49 217.45 754.36 215.73 753.46 214.04C752.57 212.34 751.95 210.53 751.24 208.75C750.52 206.97 749.71 205.29 749.19 203.37C748.66 201.46 748.38 199.39 748.11 197.28C747.84 195.17 747.58 192.86 747.55 190.72C747.52 188.58 747.63 186.51 747.91 184.45C748.2 182.4 748.78 180.38 749.26 178.39C749.74 176.4 750.15 174.35 750.8 172.5C751.46 170.66 752.31 169 753.19 167.32C754.07 165.65 755.06 163.87 756.1 162.47C757.14 161.06 758.21 160.05 759.43 158.88C760.65 157.71 762.06 156.38 763.4 155.43C764.75 154.48 766.07 153.8 767.48 153.17C768.88 152.54 770.34 151.97 771.84 151.67C773.34 151.37 775.01 151.31 776.48 151.37C777.95 151.43 779.24 151.72 780.65 152.02C782.06 152.32 783.48 152.62 784.94 153.17C786.41 153.73 788.69 154.99 789.44 155.36M781.28 370.72C781.95 371.02 783.91 371.89 785.32 372.53C786.74 373.18 788.42 373.69 789.76 374.59C791.11 375.5 792.18 376.7 793.4 377.94C794.61 379.19 795.95 380.55 797.05 382.06C798.14 383.58 799.18 385.35 799.98 387.05C800.79 388.75 801.25 390.45 801.88 392.26C802.51 394.07 803.22 396.04 803.75 397.93C804.27 399.83 804.82 401.61 805.04 403.63C805.27 405.65 805.1 407.96 805.09 410.05C805.09 412.14 805.15 414.15 805.01 416.16C804.86 418.16 804.6 420.13 804.21 422.07C803.82 424.01 803.34 425.98 802.68 427.78C802.02 429.58 801.11 431.18 800.25 432.86C799.39 434.55 798.56 436.32 797.53 437.89C796.49 439.46 795.3 441.02 794.05 442.3C792.8 443.59 791.39 444.64 790.01 445.59C788.64 446.55 787.16 447.41 785.77 448.03C784.39 448.65 783.17 448.96 781.71 449.31C780.26 449.66 778.56 450.13 777.03 450.15C775.5 450.16 774.05 449.82 772.53 449.4C771.01 448.98 769.38 448.3 767.93 447.62C766.47 446.95 765.15 446.28 763.82 445.34C762.49 444.39 761.14 443.17 759.93 441.97C758.71 440.76 757.52 439.57 756.52 438.09C755.51 436.62 754.77 434.82 753.91 433.15C753.05 431.47 752.07 429.8 751.38 428.05C750.69 426.29 750.23 424.56 749.77 422.61C749.32 420.66 748.86 418.43 748.65 416.36C748.43 414.29 748.5 412.23 748.49 410.2C748.48 408.17 748.4 406.16 748.59 404.18C748.78 402.19 749.2 400.25 749.64 398.27C750.08 396.3 750.59 394.17 751.21 392.32C751.84 390.47 752.59 388.81 753.41 387.16C754.23 385.51 755.1 383.95 756.15 382.41C757.2 380.87 758.53 379.21 759.72 377.92C760.91 376.63 762.01 375.65 763.29 374.67C764.58 373.69 766.01 372.72 767.45 372.05C768.89 371.38 770.39 370.92 771.93 370.62C773.47 370.32 775.19 370.24 776.69 370.26C778.2 370.28 779.47 370.4 780.95 370.74C782.42 371.08 784.1 371.64 785.53 372.29C786.97 372.93 788.88 374.22 789.54 374.61M781.33 371.44C781.98 371.69 783.82 372.3 785.23 372.94C786.64 373.57 788.48 374.34 789.8 375.26C791.13 376.17 792.02 377.27 793.17 378.43C794.33 379.59 795.65 380.84 796.74 382.22C797.84 383.61 798.81 385.07 799.74 386.73C800.67 388.4 801.63 390.33 802.34 392.21C803.05 394.08 803.54 396.07 804.01 397.96C804.49 399.85 804.95 401.61 805.2 403.56C805.45 405.5 805.5 407.54 805.49 409.64C805.48 411.74 805.31 414.09 805.16 416.15C805.02 418.21 805.05 420.03 804.63 422C804.21 423.97 803.32 426.07 802.66 427.98C801.99 429.9 801.54 431.8 800.66 433.51C799.79 435.22 798.46 436.77 797.39 438.24C796.32 439.7 795.47 441.12 794.25 442.29C793.03 443.46 791.45 444.35 790.09 445.25C788.74 446.14 787.55 446.99 786.12 447.64C784.68 448.28 782.98 448.78 781.46 449.12C779.93 449.45 778.45 449.72 776.94 449.64C775.43 449.56 773.84 449.03 772.38 448.66C770.93 448.29 769.56 448.03 768.19 447.44C766.83 446.84 765.49 445.99 764.2 445.08C762.9 444.17 761.66 443.2 760.43 441.99C759.2 440.78 757.94 439.3 756.82 437.82C755.7 436.34 754.59 434.78 753.71 433.12C752.82 431.46 752.17 429.66 751.51 427.86C750.85 426.05 750.26 424.14 749.75 422.29C749.23 420.44 748.77 418.78 748.45 416.75C748.12 414.73 747.82 412.27 747.78 410.15C747.73 408.03 747.92 406.08 748.17 404.03C748.42 401.98 748.79 399.78 749.25 397.85C749.72 395.92 750.29 394.29 750.96 392.46C751.63 390.63 752.42 388.58 753.25 386.86C754.08 385.15 754.89 383.67 755.94 382.19C756.98 380.71 758.29 379.23 759.52 378C760.76 376.76 761.97 375.66 763.34 374.77C764.71 373.87 766.24 373.27 767.73 372.63C769.22 372 770.82 371.26 772.28 370.94C773.74 370.62 775.02 370.65 776.49 370.7C777.97 370.75 779.65 370.91 781.12 371.23C782.58 371.55 783.89 371.96 785.29 372.62C786.68 373.28 788.78 374.77 789.47 375.2M781.48 579.9C782.14 580.13 784.1 580.67 785.47 581.3C786.84 581.94 788.29 582.79 789.7 583.7C791.1 584.62 792.62 585.55 793.89 586.8C795.17 588.04 796.36 589.69 797.36 591.17C798.36 592.65 799.07 594 799.9 595.68C800.72 597.37 801.6 599.47 802.29 601.29C802.97 603.11 803.61 604.73 804.02 606.61C804.43 608.49 804.51 610.54 804.76 612.55C805.01 614.56 805.45 616.63 805.51 618.67C805.56 620.71 805.29 622.78 805.07 624.8C804.85 626.82 804.63 628.81 804.16 630.8C803.7 632.79 802.93 634.88 802.27 636.74C801.61 638.6 801.01 640.27 800.23 641.96C799.44 643.65 798.61 645.42 797.54 646.88C796.47 648.35 795.04 649.51 793.79 650.73C792.55 651.95 791.32 653.18 790.06 654.2C788.81 655.23 787.7 656.22 786.26 656.87C784.82 657.53 782.93 657.79 781.43 658.14C779.93 658.49 778.75 658.91 777.27 658.96C775.78 659 774.05 658.71 772.49 658.4C770.94 658.1 769.37 657.74 767.93 657.12C766.49 656.51 765.15 655.73 763.85 654.71C762.55 653.69 761.33 652.29 760.11 651C758.9 649.71 757.59 648.41 756.57 646.98C755.55 645.54 754.86 644.09 753.98 642.41C753.09 640.73 751.96 638.75 751.26 636.91C750.55 635.08 750.15 633.3 749.75 631.38C749.35 629.46 749.07 627.44 748.84 625.4C748.61 623.35 748.38 621.16 748.37 619.13C748.36 617.1 748.61 615.18 748.8 613.21C748.98 611.25 749.03 609.29 749.49 607.32C749.96 605.36 750.94 603.24 751.6 601.42C752.25 599.6 752.63 598.09 753.42 596.42C754.2 594.76 755.24 592.95 756.3 591.43C757.36 589.9 758.55 588.5 759.76 587.27C760.98 586.03 762.23 584.94 763.6 584.01C764.96 583.09 766.57 582.4 767.95 581.72C769.34 581.04 770.43 580.3 771.91 579.93C773.39 579.56 775.25 579.53 776.83 579.52C778.41 579.5 779.9 579.58 781.39 579.85C782.88 580.13 784.36 580.52 785.76 581.18C787.16 581.84 789.12 583.39 789.79 583.83M781.45 580.11C782.13 580.37 784.12 581.03 785.53 581.69C786.93 582.34 788.54 583.09 789.89 584.02C791.25 584.94 792.46 586.02 793.64 587.23C794.83 588.45 795.98 589.85 796.98 591.3C797.97 592.75 798.77 594.24 799.62 595.94C800.47 597.63 801.37 599.66 802.08 601.47C802.79 603.27 803.43 604.91 803.89 606.77C804.36 608.63 804.63 610.64 804.88 612.61C805.12 614.59 805.36 616.56 805.37 618.64C805.39 620.73 805.15 623.08 804.97 625.12C804.78 627.17 804.64 629.01 804.27 630.93C803.89 632.84 803.39 634.8 802.73 636.62C802.06 638.45 801.15 640.17 800.27 641.87C799.4 643.57 798.48 645.29 797.48 646.82C796.48 648.36 795.44 649.84 794.29 651.09C793.13 652.34 791.86 653.36 790.53 654.32C789.2 655.29 787.83 656.24 786.31 656.88C784.8 657.51 782.98 657.78 781.45 658.13C779.92 658.48 778.64 658.95 777.15 658.99C775.65 659.02 774 658.68 772.5 658.32C771 657.96 769.59 657.52 768.14 656.83C766.69 656.14 765.1 655.19 763.81 654.18C762.52 653.17 761.6 652.04 760.42 650.78C759.24 649.52 757.83 648.07 756.73 646.62C755.62 645.16 754.63 643.69 753.8 642.06C752.97 640.43 752.39 638.64 751.74 636.84C751.08 635.03 750.33 633.08 749.85 631.21C749.37 629.34 749.08 627.63 748.85 625.63C748.61 623.64 748.45 621.25 748.43 619.22C748.4 617.2 748.52 615.52 748.7 613.49C748.89 611.46 749.13 609.01 749.56 607.04C749.99 605.07 750.64 603.52 751.26 601.67C751.88 599.82 752.48 597.65 753.28 595.93C754.08 594.2 754.98 592.75 756.07 591.3C757.16 589.85 758.54 588.48 759.82 587.21C761.09 585.93 762.4 584.61 763.7 583.66C765 582.7 766.19 582.12 767.61 581.49C769.03 580.86 770.69 580.21 772.22 579.86C773.75 579.51 775.32 579.36 776.78 579.38C778.25 579.4 779.57 579.6 781.01 579.97C782.44 580.35 783.95 580.95 785.4 581.62C786.85 582.29 788.98 583.61 789.69 584.01"/>
</g>
<g fill="none" stroke="#2f9e44" stroke-width="2.3" stroke-linecap="round" stroke-linejoin="round">
<path d="M772 182.9C772.75 182.47 775 181.02 776.5 180.3C778 179.58 780.25 178.88 781 178.6M781 178.6C780.7 179.63 779.7 182.68 779.2 184.8C778.7 186.92 778.23 188.97 778 191.3C777.77 193.63 777.83 197.55 777.8 198.8M770.4 401.2C771.03 400.87 773.05 399.75 774.2 399.2C775.35 398.65 776.27 398.12 777.3 397.9C778.33 397.68 779.63 397.57 780.4 397.9C781.17 398.23 781.75 398.95 781.9 399.9C782.05 400.85 782 402.1 781.3 403.6C780.6 405.1 778.97 407.27 777.7 408.9C776.43 410.53 774.62 412.07 773.7 413.4C772.78 414.73 772.12 416.05 772.2 416.9C772.28 417.75 773.13 418.28 774.2 418.5C775.27 418.72 777.17 418.32 778.6 418.2C780.03 418.08 782.1 417.87 782.8 417.8M770.2 609.2C770.68 608.93 771.97 608.02 773.1 607.6C774.23 607.18 775.6 606.82 777 606.7C778.4 606.58 780.47 606.48 781.5 606.9C782.53 607.32 783.13 608.35 783.2 609.2C783.27 610.05 782.85 611.02 781.9 612C780.95 612.98 779.12 614.03 777.5 615.1C775.88 616.17 773.08 617.85 772.2 618.4M772.2 618.4C773.08 618.45 775.88 618.37 777.5 618.7C779.12 619.03 781.02 619.6 781.9 620.4C782.78 621.2 783.02 622.53 782.8 623.5C782.58 624.47 781.7 625.52 780.6 626.2C779.5 626.88 777.9 627.48 776.2 627.6C774.5 627.72 771.37 627.02 770.4 626.9"/>
</g>
</svg></body></html>
